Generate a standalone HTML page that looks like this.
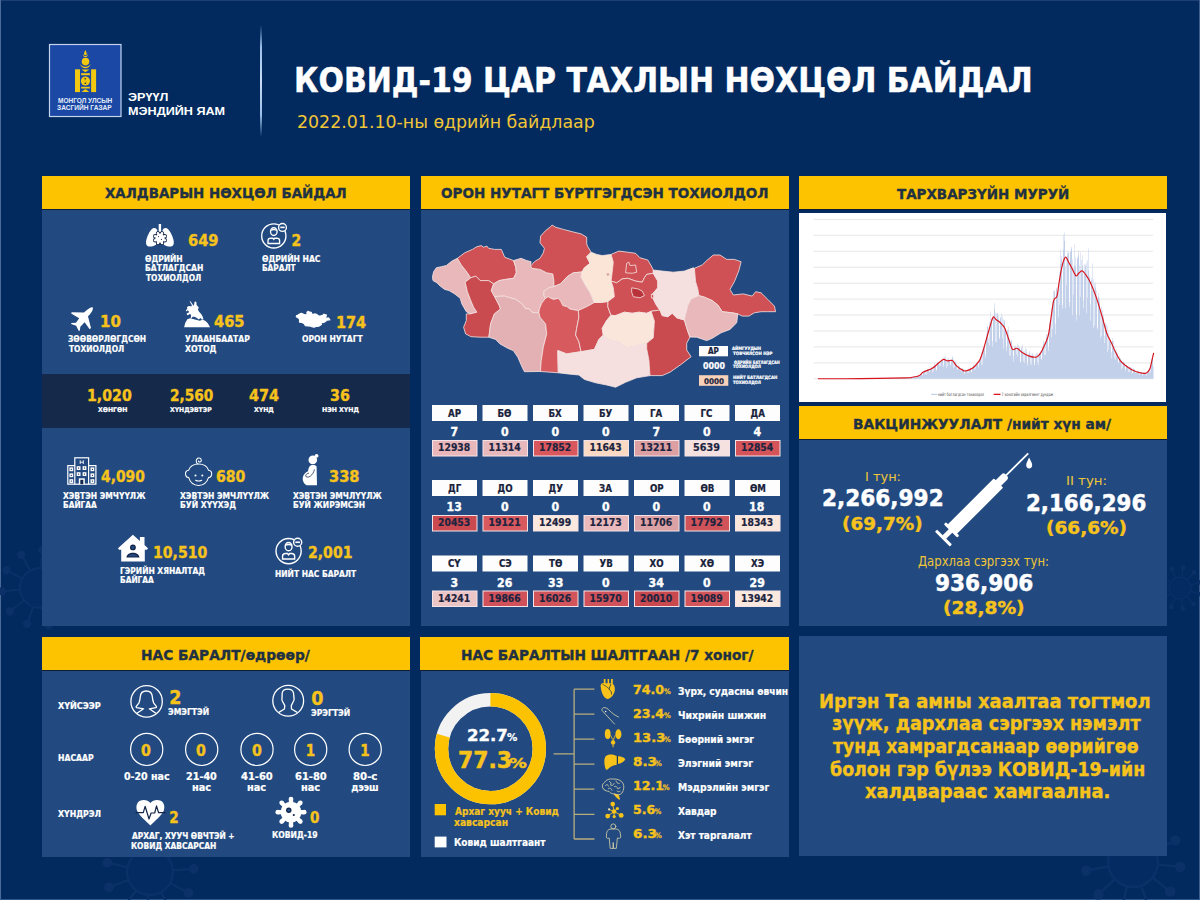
<!DOCTYPE html>
<html><head><meta charset="utf-8"><title>КОВИД-19 ЦАР ТАХЛЫН НӨХЦӨЛ БАЙДАЛ</title>
<style>
*{margin:0;padding:0;box-sizing:border-box}
html,body{width:1200px;height:900px;overflow:hidden}
body{position:relative;background:#022a5e;font-family:'DejaVu Sans Condensed','DejaVu Sans',sans-serif}
.a{position:absolute}
.t{position:absolute;white-space:nowrap;transform-origin:0 0}
.hd{position:absolute;height:33px;background:#fdc300;box-shadow:0 1px 0 #0e1d33}
.pn{position:absolute;background:#224a80}
svg{position:absolute;overflow:visible}
</style></head><body>
<!-- frame edges -->
<div class=a style="left:0;top:0;width:1200px;height:1px;background:#1d3f72"></div>
<div class=a style="left:0;top:0;width:1px;height:900px;background:#4a6a98"></div>
<div class=a style="left:1199px;top:0;width:1px;height:900px;background:#3d5f90"></div>
<div class=a style="left:0;top:899px;width:1200px;height:1px;background:#2f568a"></div>
<svg width="1200" height="900" style="left:0;top:0" viewBox="0 0 1200 900">
<g stroke="#0c3169" fill="none" stroke-width="2.00"><circle cx="40" cy="588" r="20.0" fill="#0c3169" fill-opacity="0.35"/><line x1="59.6" y1="592.0" x2="74.5" y2="595.0"/><circle cx="77.2" cy="595.5" r="3.2" fill="#0c3169"/><line x1="54.3" y1="601.9" x2="65.2" y2="612.5"/><circle cx="67.2" cy="614.5" r="3.2" fill="#0c3169"/><line x1="44.5" y1="607.5" x2="48.0" y2="622.3"/><circle cx="48.6" cy="625.0" r="3.2" fill="#0c3169"/><line x1="33.3" y1="606.8" x2="28.2" y2="621.2"/><circle cx="27.2" cy="623.8" r="3.2" fill="#0c3169"/><line x1="24.2" y1="600.2" x2="12.1" y2="609.5"/><circle cx="9.9" cy="611.2" r="3.2" fill="#0c3169"/><line x1="20.1" y1="589.7" x2="4.9" y2="591.0"/><circle cx="2.1" cy="591.2" r="3.2" fill="#0c3169"/><line x1="22.3" y1="578.7" x2="8.9" y2="571.6"/><circle cx="6.4" cy="570.3" r="3.2" fill="#0c3169"/><line x1="30.2" y1="570.6" x2="22.7" y2="557.3"/><circle cx="21.3" cy="554.9" r="3.2" fill="#0c3169"/><line x1="41.1" y1="568.0" x2="42.0" y2="552.9"/><circle cx="42.2" cy="550.1" r="3.2" fill="#0c3169"/><line x1="51.8" y1="571.8" x2="60.7" y2="559.5"/><circle cx="62.3" cy="557.3" r="3.2" fill="#0c3169"/><line x1="58.6" y1="580.7" x2="72.8" y2="575.2"/><circle cx="75.4" cy="574.2" r="3.2" fill="#0c3169"/></g>
<g stroke="#0c3169" fill="none" stroke-width="2.30"><circle cx="150" cy="872" r="23.0" fill="#0c3169" fill-opacity="0.35"/><line x1="170.2" y1="883.0" x2="185.5" y2="891.4"/><circle cx="188.4" cy="893.0" r="3.7" fill="#0c3169"/><line x1="161.0" y1="892.2" x2="169.4" y2="907.5"/><circle cx="170.9" cy="910.4" r="3.7" fill="#0c3169"/><line x1="148.4" y1="894.9" x2="147.1" y2="912.4"/><circle cx="146.9" cy="915.6" r="3.7" fill="#0c3169"/><line x1="136.2" y1="890.4" x2="125.7" y2="904.4"/><circle cx="123.8" cy="907.0" r="3.7" fill="#0c3169"/><line x1="128.4" y1="880.0" x2="112.1" y2="886.1"/><circle cx="109.1" cy="887.3" r="3.7" fill="#0c3169"/><line x1="127.5" y1="867.1" x2="110.4" y2="863.4"/><circle cx="107.3" cy="862.7" r="3.7" fill="#0c3169"/><line x1="133.7" y1="855.7" x2="121.4" y2="843.4"/><circle cx="119.1" cy="841.1" r="3.7" fill="#0c3169"/><line x1="145.1" y1="849.5" x2="141.4" y2="832.4"/><circle cx="140.7" cy="829.3" r="3.7" fill="#0c3169"/><line x1="158.0" y1="850.5" x2="164.2" y2="834.1"/><circle cx="165.3" cy="831.1" r="3.7" fill="#0c3169"/><line x1="168.4" y1="858.2" x2="182.4" y2="847.7"/><circle cx="185.0" cy="845.8" r="3.7" fill="#0c3169"/><line x1="172.9" y1="870.4" x2="190.4" y2="869.1"/><circle cx="193.6" cy="868.9" r="3.7" fill="#0c3169"/></g>
<g stroke="#0c3169" fill="none" stroke-width="2.50"><circle cx="1133" cy="862" r="25.0" fill="#0c3169" fill-opacity="0.35"/><line x1="1157.9" y1="864.5" x2="1176.8" y2="866.4"/><circle cx="1180.3" cy="866.7" r="4.0" fill="#0c3169"/><line x1="1152.6" y1="877.5" x2="1167.5" y2="889.4"/><circle cx="1170.2" cy="891.5" r="4.0" fill="#0c3169"/><line x1="1141.1" y1="885.7" x2="1147.2" y2="903.6"/><circle cx="1148.3" cy="907.0" r="4.0" fill="#0c3169"/><line x1="1127.0" y1="886.3" x2="1122.4" y2="904.7"/><circle cx="1121.6" cy="908.1" r="4.0" fill="#0c3169"/><line x1="1114.8" y1="879.2" x2="1101.0" y2="892.2"/><circle cx="1098.5" cy="894.6" r="4.0" fill="#0c3169"/><line x1="1108.4" y1="866.6" x2="1089.8" y2="870.1"/><circle cx="1086.3" cy="870.8" r="4.0" fill="#0c3169"/><line x1="1109.8" y1="852.6" x2="1092.2" y2="845.5"/><circle cx="1089.0" cy="844.1" r="4.0" fill="#0c3169"/><line x1="1118.6" y1="841.6" x2="1107.6" y2="826.0"/><circle cx="1105.6" cy="823.2" r="4.0" fill="#0c3169"/><line x1="1131.9" y1="837.0" x2="1131.1" y2="818.0"/><circle cx="1131.0" cy="814.5" r="4.0" fill="#0c3169"/><line x1="1145.6" y1="840.4" x2="1155.2" y2="824.0"/><circle cx="1156.9" cy="821.0" r="4.0" fill="#0c3169"/><line x1="1155.3" y1="850.7" x2="1172.2" y2="842.0"/><circle cx="1175.3" cy="840.4" r="4.0" fill="#0c3169"/></g>
<g stroke="#0c3169" fill="none" stroke-width="1.10"><circle cx="1180" cy="588" r="11.0" fill="#0c3169" fill-opacity="0.35"/><line x1="1190.5" y1="591.3" x2="1198.5" y2="593.7"/><circle cx="1200.0" cy="594.2" r="1.8" fill="#0c3169"/><line x1="1187.1" y1="596.4" x2="1192.5" y2="602.8"/><circle cx="1193.5" cy="604.0" r="1.8" fill="#0c3169"/><line x1="1181.4" y1="598.9" x2="1182.5" y2="607.2"/><circle cx="1182.7" cy="608.7" r="1.8" fill="#0c3169"/><line x1="1175.3" y1="597.9" x2="1171.7" y2="605.5"/><circle cx="1171.0" cy="606.9" r="1.8" fill="#0c3169"/><line x1="1170.7" y1="593.8" x2="1163.6" y2="598.2"/><circle cx="1162.3" cy="599.0" r="1.8" fill="#0c3169"/><line x1="1169.0" y1="587.8" x2="1160.6" y2="587.7"/><circle cx="1159.1" cy="587.7" r="1.8" fill="#0c3169"/><line x1="1170.8" y1="581.9" x2="1163.9" y2="577.3"/><circle cx="1162.6" cy="576.4" r="1.8" fill="#0c3169"/><line x1="1175.6" y1="577.9" x2="1172.2" y2="570.3"/><circle cx="1171.6" cy="568.9" r="1.8" fill="#0c3169"/><line x1="1181.7" y1="577.1" x2="1183.0" y2="568.9"/><circle cx="1183.3" cy="567.4" r="1.8" fill="#0c3169"/><line x1="1187.3" y1="579.8" x2="1192.9" y2="573.6"/><circle cx="1193.9" cy="572.4" r="1.8" fill="#0c3169"/><line x1="1190.6" y1="585.1" x2="1198.7" y2="582.8"/><circle cx="1200.1" cy="582.4" r="1.8" fill="#0c3169"/></g>
</svg>
<!-- header divider -->
<div class=a style="left:260px;top:25px;width:2px;height:112px;background:linear-gradient(#022a5e,#9cc0ea 20%,#c8dcf4 50%,#9cc0ea 80%,#022a5e)"></div>
<svg width="1200" height="140" style="left:0;top:0" viewBox="0 0 1200 140">
<rect x="49.5" y="44.5" width="71.5" height="72" fill="#1a48a4" stroke="#c5d4ee" stroke-width="1.2"/>
<g fill="#f2c811">
<path d="M85.4,50 C84.6,52 83.8,53 84.1,54.6 C84.4,55.6 86.4,55.6 86.7,54.6 C87,53 86.2,52 85.4,50Z"/>
<path d="M82.9,53.4 C82.6,55.8 84,57 85.4,57 C86.8,57 88.2,55.8 87.9,53.4 C87.6,55.3 86.6,56 85.4,56 C84.2,56 83.2,55.3 82.9,53.4Z"/>
<circle cx="85.5" cy="61.6" r="3.8"/>
<path d="M80,64 C81,67 83.2,68.3 85.4,68.3 C87.6,68.3 89.8,67 90.8,64 C89.4,65.9 87.6,66.8 85.4,66.8 C83.2,66.8 81.4,65.9 80,64Z"/>
<path d="M81.4,69.4 L89.4,69.4 L85.4,72.2Z"/>
<rect x="81.1" y="73.2" width="8.8" height="2"/>
<circle cx="85.4" cy="81" r="4.6"/>
<rect x="81.1" y="86.8" width="8.8" height="1.7"/>
<path d="M81.4,92.1 L89.4,92.1 L85.4,89Z"/>
<rect x="75" y="69.3" width="5" height="22.8"/>
<rect x="91.1" y="69.3" width="5" height="22.8"/>
</g>
<circle cx="85.3" cy="78.7" r="0.8" fill="#1a2a50"/>
<circle cx="85.3" cy="83.3" r="0.8" fill="#1a2a50"/>
<path d="M85.4,76.4 C83.5,77.8 83.5,79.5 85.4,81 C87.3,82.5 87.3,84.2 85.4,85.6" fill="none" stroke="#c9a410" stroke-width="0.5"/>
</svg>

<!-- panels row 1 -->
<div class=hd style="left:42px;top:176px;width:368px"></div>
<div class=pn style="left:42px;top:210px;width:368px;height:416px"></div>
<div class=a style="left:42px;top:374px;width:368px;height:53.5px;background:#15294b"></div>
<div class=hd style="left:420.5px;top:176px;width:368.5px"></div>
<div class=pn style="left:421px;top:210px;width:368px;height:416px"></div>
<div class=hd style="left:799px;top:176px;width:368px"></div>
<div class=a style="left:799px;top:213px;width:367px;height:189px;background:#fff"></div>
<div class=hd style="left:799px;top:406px;width:368px"></div>
<div class=pn style="left:799px;top:440px;width:368px;height:186px"></div>
<!-- panels row 2 -->
<div class=hd style="left:42px;top:637px;width:368px"></div>
<div class=pn style="left:42px;top:671px;width:368px;height:186px"></div>
<div class=hd style="left:420px;top:637px;width:369px"></div>
<div class=pn style="left:421px;top:671px;width:368px;height:186px"></div>
<div class=pn style="left:799px;top:636px;width:368px;height:220px"></div>
<svg width="1200" height="900" style="left:0;top:0" viewBox="0 0 1200 900"><g stroke="#f7e4e2" stroke-width="0.8" stroke-linejoin="round">
<polygon fill="#e8b8ba" points="432.4,277.2 433.6,271.7 436.3,267.8 441.3,266.7 446.3,265.6 451.9,261.1 457.4,258.3 461.3,265.0 465.8,270.6 470.8,277.8 465.2,282.2 467.4,291.7 470.8,300.6 473.6,307.2 476.9,312.2 470.2,313.9 466.3,311.7 461.9,303.9 460.2,298.3 454.7,293.9 449.1,290.6 444.7,289.4 440.2,286.1 436.9,282.8 433.0,280.6"/>
<polygon fill="#cf5055" points="457.4,258.3 464.7,252.8 472.4,249.4 476.9,246.7 481.3,245.6 483.6,247.2 486.9,246.1 488.6,248.3 494.7,249.4 501.3,249.4 504.7,257.2 513.6,260.6 515.8,267.2 516.3,272.8 513.6,278.3 505.8,279.4 499.1,280.6 493.6,283.9 488.6,280.6 480.2,280.6 475.8,276.1 470.8,277.8 465.8,270.6 461.3,265.0"/>
<polygon fill="#c94a4f" points="465.2,282.2 470.8,277.8 475.8,276.1 480.2,280.6 488.6,280.6 493.6,283.9 491.3,290.6 494.5,296.5 499.1,305.0 500.5,309.0 494.4,313.9 490.6,323.9 488.9,337.2 480.2,337.2 471.1,336.7 465.6,333.9 463.6,327.2 466.3,320.6 466.3,313.9 470.2,313.9 476.9,312.2 473.6,307.2 470.8,300.6 467.4,291.7"/>
<polygon fill="#e8b8ba" points="513.6,260.6 521.1,258.3 526.7,260.6 531.1,261.7 530.6,266.1 532.2,268.3 540.0,269.4 546.7,272.8 552.8,273.9 553.9,280.6 553.9,286.5 548.9,287.8 543.9,291.1 543.9,295.6 545.3,298.5 541.7,303.3 539.4,308.9 538.9,312.5 536.1,312.8 531.7,312.2 529.4,308.9 525.0,308.3 522.2,303.9 515.6,299.4 504.4,296.1 494.5,296.5 491.3,290.6 493.6,283.9 499.1,280.6 505.8,279.4 513.6,278.3 516.3,272.8 515.8,267.2"/>
<polygon fill="#e3b0b3" points="494.5,296.5 504.4,296.1 515.6,299.4 522.2,303.9 525.0,308.3 529.4,308.9 531.7,312.2 536.1,312.8 538.9,312.5 540.0,317.2 545.6,323.9 546.7,333.9 543.3,347.2 541.1,361.7 540.5,371.5 524.4,371.7 522.2,367.2 517.8,357.2 513.3,350.6 507.8,348.3 500.0,343.9 495.6,339.4 488.9,337.2 490.6,323.9 494.4,313.9 500.5,309.0 499.1,305.0"/>
<polygon fill="#cf5055" points="552.2,225.0 555.6,227.2 563.3,229.4 572.2,231.7 581.1,233.9 586.7,237.2 586.7,243.9 587.8,246.7 591.1,252.2 586.7,256.7 590.0,263.3 584.4,267.8 582.0,272.0 573.3,272.8 567.2,276.7 560.6,283.9 553.9,286.5 553.9,280.6 552.8,273.9 546.7,272.8 540.0,269.4 532.2,268.3 530.6,266.1 534.4,261.7 540.0,258.3 543.3,252.8 544.4,248.3 540.0,242.8 540.6,236.1 545.6,230.6 550.0,227.2"/>
<polygon fill="#e8b8ba" points="553.9,286.5 560.6,283.9 567.2,276.7 573.3,272.8 582.0,272.0 581.1,276.7 584.4,283.3 590.0,292.2 594.4,302.5 586.7,306.7 578.3,310.6 575.0,310.0 569.4,308.9 567.2,306.7 562.8,305.6 560.6,301.1 558.3,298.3 553.9,299.4 550.6,298.3 548.3,296.7 545.3,298.5 543.9,295.6 543.9,291.1 548.9,287.8"/>
<polygon fill="#d65a5e" points="545.3,298.5 548.3,296.7 550.6,298.3 553.9,299.4 558.3,298.3 560.6,301.1 562.8,305.6 567.2,306.7 569.4,308.9 575.0,310.0 578.3,310.6 578.9,317.2 576.7,328.3 575.6,335.0 578.9,341.7 581.1,351.7 566.7,353.9 557.8,350.6 558.3,372.8 540.5,371.5 541.1,361.7 543.3,347.2 546.7,333.9 545.6,323.9 540.0,317.2 538.9,312.5 539.4,308.9 541.7,303.3"/>
<polygon fill="#cf5055" points="578.3,310.6 586.7,306.7 594.4,302.5 600.0,302.5 608.0,301.5 607.8,306.7 611.0,315.3 606.7,320.5 602.2,328.3 603.3,335.0 598.9,339.4 594.4,349.4 581.1,351.7 578.9,341.7 575.6,335.0 576.7,328.3 578.9,317.2"/>
<polygon fill="#fbe5d6" points="591.1,252.2 596.7,254.4 602.2,255.6 611.1,254.4 613.3,262.2 612.2,272.2 611.1,281.1 613.3,287.8 614.4,296.7 608.0,301.5 600.0,302.5 594.4,302.5 590.0,292.2 584.4,283.3 581.1,276.7 582.0,272.0 584.4,267.8 590.0,263.3 586.7,256.7"/>
<polygon fill="#cf5055" points="611.1,254.4 618.9,251.1 627.8,252.2 635.6,253.3 640.0,257.8 647.8,260.0 651.1,265.6 653.3,270.0 653.3,273.3 646.7,274.4 644.4,277.8 642.2,282.2 635.6,281.1 627.8,278.3 622.2,278.9 616.7,282.8 611.1,281.1 612.2,272.2 613.3,262.2"/>
<polygon fill="#cf5055" points="611.1,281.1 616.7,282.8 622.2,278.9 627.8,278.3 635.6,281.1 642.2,282.2 644.4,277.8 646.7,274.4 653.3,273.3 657.8,281.1 657.8,287.8 652.2,294.4 653.3,298.9 656.7,305.6 660.0,310.0 651.1,311.3 646.7,313.3 638.9,312.2 632.2,313.3 624.4,312.2 615.6,315.6 611.0,315.3 607.8,306.7 608.0,301.5 614.4,296.7 613.3,287.8"/>
<polygon fill="#fae6da" points="611.0,315.3 615.6,315.6 624.4,312.2 632.2,313.3 638.9,312.2 646.7,313.3 651.1,311.3 654.4,321.1 653.3,337.8 646.7,343.3 636.7,345.6 626.7,347.8 620.0,342.2 617.8,341.7 608.9,339.4 603.3,335.0 602.2,328.3 606.7,320.5"/>
<polygon fill="#f5e0df" points="557.8,350.6 566.7,353.9 581.1,351.7 594.4,349.4 598.9,339.4 603.3,335.0 608.9,339.4 617.8,341.7 620.0,342.2 626.7,347.8 636.7,345.6 646.7,343.3 646.7,348.9 648.9,360.0 650.0,375.6 636.7,377.8 625.6,382.2 615.6,387.2 606.7,385.0 595.6,382.8 584.4,379.4 578.9,375.0 567.8,373.9 558.3,372.8"/>
<polygon fill="#c94a4f" points="651.1,311.3 660.0,310.0 662.2,315.6 667.8,316.7 672.2,313.3 676.7,317.8 684.4,320.0 686.7,327.8 688.9,334.4 690.0,337.0 686.7,343.3 686.7,350.0 691.1,356.7 681.1,364.4 670.0,372.2 662.2,375.6 650.0,375.6 648.9,360.0 646.7,348.9 646.7,343.3 653.3,337.8 654.4,321.1"/>
<polygon fill="#f5e0df" points="653.3,270.0 662.2,271.1 673.3,272.2 684.4,271.1 693.3,267.8 694.4,268.3 695.6,281.7 697.8,288.9 698.9,295.6 691.1,298.9 687.8,305.6 685.6,314.4 684.4,320.0 676.7,317.8 672.2,313.3 667.8,316.7 662.2,315.6 660.0,310.0 656.7,305.6 653.3,298.9 652.2,294.4 657.8,287.8 657.8,281.1 653.3,273.3"/>
<polygon fill="#cf5055" points="694.4,268.3 702.2,265.0 706.7,260.6 713.3,255.0 720.0,255.0 726.7,259.4 734.4,259.4 741.1,261.7 738.9,270.6 734.4,281.7 730.0,289.4 733.3,295.0 743.3,293.9 752.2,296.1 755.6,291.7 761.1,292.8 767.8,299.4 774.4,306.1 775.6,311.7 767.8,311.7 761.1,311.7 754.4,312.8 748.9,316.1 742.2,316.1 737.8,313.9 732.2,312.8 722.2,311.7 717.8,305.0 712.2,300.6 704.4,297.2 698.9,295.6 697.8,288.9 695.6,281.7"/>
<polygon fill="#e8b8ba" points="698.9,295.6 704.4,297.2 712.2,300.6 717.8,305.0 722.2,311.7 732.2,312.8 737.8,313.9 736.7,322.8 730.0,329.4 721.1,332.8 712.2,338.3 706.7,340.6 696.7,337.2 690.0,337.0 688.9,334.4 686.7,327.8 684.4,320.0 685.6,314.4 687.8,305.6 691.1,298.9"/>
<polygon fill="#cf5055" points="626.7,263.3 628.9,262.2 630,265.6 635.6,265 636.7,272.2 632.2,273.3 625.6,272.8"/>
<polygon fill="#b8343a" points="631.7,287.8 637.8,288.9 642.2,291.1 644.4,295.6 640,297.8 633.3,296.7 631.7,292.2"/>
<polygon fill="#d8a0a3" stroke="none" points="606.5,273.5 608.8,273.2 609.5,275.3 607,275.8"/>
<polygon fill="#cf5055" points="651.3,294.2 653.6,294.8 653.8,297.8 651.5,298"/>
</g></svg>
<svg width="1200" height="900" style="left:0;top:0" viewBox="0 0 1200 900">
<rect x="432.0" y="405" width="45" height="16" fill="#fdfdfe"/>
<rect x="432.5" y="440.5" width="44.5" height="15.5" fill="#e9b7b9" stroke="#f4e3e6" stroke-width="1"/>
<rect x="482.5" y="405" width="45" height="16" fill="#fdfdfe"/>
<rect x="483.0" y="440.5" width="44.5" height="15.5" fill="#e8b9bc" stroke="#f4e3e6" stroke-width="1"/>
<rect x="533.0" y="405" width="45" height="16" fill="#fdfdfe"/>
<rect x="533.5" y="440.5" width="44.5" height="15.5" fill="#d9585d" stroke="#f4e3e6" stroke-width="1"/>
<rect x="583.5" y="405" width="45" height="16" fill="#fdfdfe"/>
<rect x="584.0" y="440.5" width="44.5" height="15.5" fill="#fbd9c3" stroke="#f4e3e6" stroke-width="1"/>
<rect x="634.0" y="405" width="45" height="16" fill="#fdfdfe"/>
<rect x="634.5" y="440.5" width="44.5" height="15.5" fill="#dca0a3" stroke="#f4e3e6" stroke-width="1"/>
<rect x="684.5" y="405" width="45" height="16" fill="#fdfdfe"/>
<rect x="685.0" y="440.5" width="44.5" height="15.5" fill="#f6e1e1" stroke="#f4e3e6" stroke-width="1"/>
<rect x="735.0" y="405" width="45" height="16" fill="#fdfdfe"/>
<rect x="735.5" y="440.5" width="44.5" height="15.5" fill="#d5545a" stroke="#f4e3e6" stroke-width="1"/>
<rect x="432.0" y="480" width="45" height="16" fill="#fdfdfe"/>
<rect x="432.5" y="515.5" width="44.5" height="15.5" fill="#cb4a50" stroke="#f4e3e6" stroke-width="1"/>
<rect x="482.5" y="480" width="45" height="16" fill="#fdfdfe"/>
<rect x="483.0" y="515.5" width="44.5" height="15.5" fill="#d8595e" stroke="#f4e3e6" stroke-width="1"/>
<rect x="533.0" y="480" width="45" height="16" fill="#fdfdfe"/>
<rect x="533.5" y="515.5" width="44.5" height="15.5" fill="#fbe8de" stroke="#f4e3e6" stroke-width="1"/>
<rect x="583.5" y="480" width="45" height="16" fill="#fdfdfe"/>
<rect x="584.0" y="515.5" width="44.5" height="15.5" fill="#e9b9bb" stroke="#f4e3e6" stroke-width="1"/>
<rect x="634.0" y="480" width="45" height="16" fill="#fdfdfe"/>
<rect x="634.5" y="515.5" width="44.5" height="15.5" fill="#dca1a4" stroke="#f4e3e6" stroke-width="1"/>
<rect x="684.5" y="480" width="45" height="16" fill="#fdfdfe"/>
<rect x="685.0" y="515.5" width="44.5" height="15.5" fill="#d0535a" stroke="#f4e3e6" stroke-width="1"/>
<rect x="735.0" y="480" width="45" height="16" fill="#fdfdfe"/>
<rect x="735.5" y="515.5" width="44.5" height="15.5" fill="#fbe6dc" stroke="#f4e3e6" stroke-width="1"/>
<rect x="432.0" y="555.5" width="45" height="16" fill="#fdfdfe"/>
<rect x="432.5" y="591.0" width="44.5" height="15.5" fill="#ecc5c6" stroke="#f4e3e6" stroke-width="1"/>
<rect x="482.5" y="555.5" width="45" height="16" fill="#fdfdfe"/>
<rect x="483.0" y="591.0" width="44.5" height="15.5" fill="#d0515a" stroke="#f4e3e6" stroke-width="1"/>
<rect x="533.0" y="555.5" width="45" height="16" fill="#fdfdfe"/>
<rect x="533.5" y="591.0" width="44.5" height="15.5" fill="#d1555b" stroke="#f4e3e6" stroke-width="1"/>
<rect x="583.5" y="555.5" width="45" height="16" fill="#fdfdfe"/>
<rect x="584.0" y="591.0" width="44.5" height="15.5" fill="#d0525a" stroke="#f4e3e6" stroke-width="1"/>
<rect x="634.0" y="555.5" width="45" height="16" fill="#fdfdfe"/>
<rect x="634.5" y="591.0" width="44.5" height="15.5" fill="#c9494f" stroke="#f4e3e6" stroke-width="1"/>
<rect x="684.5" y="555.5" width="45" height="16" fill="#fdfdfe"/>
<rect x="685.0" y="591.0" width="44.5" height="15.5" fill="#d4565b" stroke="#f4e3e6" stroke-width="1"/>
<rect x="735.0" y="555.5" width="45" height="16" fill="#fdfdfe"/>
<rect x="735.5" y="591.0" width="44.5" height="15.5" fill="#fbe8df" stroke="#f4e3e6" stroke-width="1"/>
<rect x="699" y="346" width="29" height="10.3" fill="#fdfdfe"/>
<rect x="699" y="375.2" width="29.3" height="10.6" fill="#f8d2b8"/>
</svg>
<svg width="1200" height="900" style="left:0;top:0" viewBox="0 0 1200 900">
<path d="M813.4,219.4H1153.2 M813.4,235.3H1153.2 M813.4,251.3H1153.2 M813.4,267.2H1153.2 M813.4,283.2H1153.2 M813.4,299.1H1153.2 M813.4,315.0H1153.2 M813.4,331.0H1153.2 M813.4,346.9H1153.2 M813.4,362.9H1153.2 M813.4,378.8H1153.2" stroke="#dcdcdc" stroke-width="0.7" fill="none"/>
<path d="M880.00,378.8v-0.4h0.5v0.4zM880.50,378.8v-0.3h0.5v0.3zM881.00,378.8v-0.5h0.5v0.5zM881.50,378.8v-0.6h0.5v0.6zM882.00,378.8v-0.7h0.5v0.7zM882.50,378.8v-0.6h0.5v0.6zM883.00,378.8v-0.6h0.5v0.6zM883.50,378.8v-0.3h0.5v0.3zM884.00,378.8v-0.3h0.5v0.3zM884.50,378.8v-0.7h0.5v0.7zM885.00,378.8v-0.6h0.5v0.6zM885.50,378.8v-0.7h0.5v0.7zM886.00,378.8v-0.6h0.5v0.6zM886.50,378.8v-0.6h0.5v0.6zM887.00,378.8v-0.5h0.5v0.5zM887.50,378.8v-0.4h0.5v0.4zM888.00,378.8v-0.7h0.5v0.7zM888.50,378.8v-0.7h0.5v0.7zM889.00,378.8v-0.8h0.5v0.8zM889.50,378.8v-0.8h0.5v0.8zM890.00,378.8v-0.7h0.5v0.7zM890.50,378.8v-0.4h0.5v0.4zM891.00,378.8v-0.4h0.5v0.4zM891.50,378.8v-0.7h0.5v0.7zM892.00,378.8v-0.8h0.5v0.8zM892.50,378.8v-0.8h0.5v0.8zM893.00,378.8v-0.7h0.5v0.7zM893.50,378.8v-0.8h0.5v0.8zM894.00,378.8v-0.5h0.5v0.5zM894.50,378.8v-0.5h0.5v0.5zM895.00,378.8v-0.8h0.5v0.8zM895.50,378.8v-0.9h0.5v0.9zM896.00,378.8v-0.7h0.5v0.7zM896.50,378.8v-0.8h0.5v0.8zM897.00,378.8v-0.8h0.5v0.8zM897.50,378.8v-0.4h0.5v0.4zM898.00,378.8v-0.5h0.5v0.5zM898.50,378.8v-0.9h0.5v0.9zM899.00,378.8v-0.8h0.5v0.8zM899.50,378.8v-0.9h0.5v0.9zM900.00,378.8v-0.9h0.5v0.9zM900.50,378.8v-0.8h0.5v0.8zM901.00,378.8v-0.6h0.5v0.6zM901.50,378.8v-0.6h0.5v0.6zM902.00,378.8v-0.9h0.5v0.9zM902.50,378.8v-0.9h0.5v0.9zM903.00,378.8v-1.0h0.5v1.0zM903.50,378.8v-0.8h0.5v0.8zM904.00,378.8v-0.9h0.5v0.9zM904.50,378.8v-0.6h0.5v0.6zM905.00,378.8v-0.7h0.5v0.7zM905.50,378.8v-0.8h0.5v0.8zM906.00,378.8v-1.0h0.5v1.0zM906.50,378.8v-1.1h0.5v1.1zM907.00,378.8v-1.2h0.5v1.2zM907.50,378.8v-1.2h0.5v1.2zM908.00,378.8v-0.7h0.5v0.7zM908.50,378.8v-0.9h0.5v0.9zM909.00,378.8v-1.4h0.5v1.4zM909.50,378.8v-1.5h0.5v1.5zM910.00,378.8v-1.5h0.5v1.5zM910.50,378.8v-1.7h0.5v1.7zM911.00,378.8v-1.5h0.5v1.5zM911.50,378.8v-1.2h0.5v1.2zM912.00,378.8v-1.0h0.5v1.0zM912.50,378.8v-1.7h0.5v1.7zM913.00,378.8v-1.9h0.5v1.9zM913.50,378.8v-2.1h0.5v2.1zM914.00,378.8v-2.3h0.5v2.3zM914.50,378.8v-2.3h0.5v2.3zM915.00,378.8v-1.4h0.5v1.4zM915.50,378.8v-1.6h0.5v1.6zM916.00,378.8v-2.6h0.5v2.6zM916.50,378.8v-2.7h0.5v2.7zM917.00,378.8v-3.4h0.5v3.4zM917.50,378.8v-3.0h0.5v3.0zM918.00,378.8v-2.7h0.5v2.7zM918.50,378.8v-2.2h0.5v2.2zM919.00,378.8v-2.2h0.5v2.2zM919.50,378.8v-3.8h0.5v3.8zM920.00,378.8v-4.7h0.5v4.7zM920.50,378.8v-4.9h0.5v4.9zM921.00,378.8v-5.5h0.5v5.5zM921.50,378.8v-5.2h0.5v5.2zM922.00,378.8v-3.2h0.5v3.2zM922.50,378.8v-4.2h0.5v4.2zM923.00,378.8v-7.0h0.5v7.0zM923.50,378.8v-7.3h0.5v7.3zM924.00,378.8v-8.5h0.5v8.5zM924.50,378.8v-8.0h0.5v8.0zM925.00,378.8v-8.0h0.5v8.0zM925.50,378.8v-4.5h0.5v4.5zM926.00,378.8v-4.3h0.5v4.3zM926.50,378.8v-8.9h0.5v8.9zM927.00,378.8v-9.4h0.5v9.4zM927.50,378.8v-9.7h0.5v9.7zM928.00,378.8v-9.4h0.5v9.4zM928.50,378.8v-10.1h0.5v10.1zM929.00,378.8v-6.9h0.5v6.9zM929.50,378.8v-7.4h0.5v7.4zM930.00,378.8v-9.6h0.5v9.6zM930.50,378.8v-10.7h0.5v10.7zM931.00,378.8v-12.3h0.5v12.3zM931.50,378.8v-11.1h0.5v11.1zM932.00,378.8v-11.1h0.5v11.1zM932.50,378.8v-6.3h0.5v6.3zM933.00,378.8v-7.6h0.5v7.6zM933.50,378.8v-12.7h0.5v12.7zM934.00,378.8v-13.4h0.5v13.4zM934.50,378.8v-15.8h0.5v15.8zM935.00,378.8v-11.7h0.5v11.7zM935.50,378.8v-13.9h0.5v13.9zM936.00,378.8v-8.4h0.5v8.4zM936.50,378.8v-9.0h0.5v9.0zM937.00,378.8v-16.4h0.5v16.4zM937.50,378.8v-17.4h0.5v17.4zM938.00,378.8v-16.8h0.5v16.8zM938.50,378.8v-16.6h0.5v16.6zM939.00,378.8v-17.6h0.5v17.6zM939.50,378.8v-13.1h0.5v13.1zM940.00,378.8v-12.7h0.5v12.7zM940.50,378.8v-17.1h0.5v17.1zM941.00,378.8v-18.9h0.5v18.9zM941.50,378.8v-18.6h0.5v18.6zM942.00,378.8v-19.6h0.5v19.6zM942.50,378.8v-20.4h0.5v20.4zM943.00,378.8v-11.7h0.5v11.7zM943.50,378.8v-14.0h0.5v14.0zM944.00,378.8v-21.9h0.5v21.9zM944.50,378.8v-20.2h0.5v20.2zM945.00,378.8v-23.4h0.5v23.4zM945.50,378.8v-18.8h0.5v18.8zM946.00,378.8v-19.3h0.5v19.3zM946.50,378.8v-11.0h0.5v11.0zM947.00,378.8v-12.7h0.5v12.7zM947.50,378.8v-20.2h0.5v20.2zM948.00,378.8v-21.2h0.5v21.2zM948.50,378.8v-18.3h0.5v18.3zM949.00,378.8v-18.4h0.5v18.4zM949.50,378.8v-17.9h0.5v17.9zM950.00,378.8v-14.1h0.5v14.1zM950.50,378.8v-13.5h0.5v13.5zM951.00,378.8v-19.6h0.5v19.6zM951.50,378.8v-18.4h0.5v18.4zM952.00,378.8v-22.9h0.5v22.9zM952.50,378.8v-21.1h0.5v21.1zM953.00,378.8v-19.6h0.5v19.6zM953.50,378.8v-10.9h0.5v10.9zM954.00,378.8v-11.8h0.5v11.8zM954.50,378.8v-18.1h0.5v18.1zM955.00,378.8v-16.3h0.5v16.3zM955.50,378.8v-17.7h0.5v17.7zM956.00,378.8v-16.0h0.5v16.0zM956.50,378.8v-13.3h0.5v13.3zM957.00,378.8v-10.0h0.5v10.0zM957.50,378.8v-8.7h0.5v8.7zM958.00,378.8v-12.3h0.5v12.3zM958.50,378.8v-13.2h0.5v13.2zM959.00,378.8v-12.2h0.5v12.2zM959.50,378.8v-11.8h0.5v11.8zM960.00,378.8v-10.9h0.5v10.9zM960.50,378.8v-8.0h0.5v8.0zM961.00,378.8v-7.4h0.5v7.4zM961.50,378.8v-10.7h0.5v10.7zM962.00,378.8v-10.0h0.5v10.0zM962.50,378.8v-11.1h0.5v11.1zM963.00,378.8v-9.2h0.5v9.2zM963.50,378.8v-9.5h0.5v9.5zM964.00,378.8v-4.8h0.5v4.8zM964.50,378.8v-6.4h0.5v6.4zM965.00,378.8v-8.5h0.5v8.5zM965.50,378.8v-9.3h0.5v9.3zM966.00,378.8v-7.9h0.5v7.9zM966.50,378.8v-8.3h0.5v8.3zM967.00,378.8v-9.4h0.5v9.4zM967.50,378.8v-5.7h0.5v5.7zM968.00,378.8v-5.7h0.5v5.7zM968.50,378.8v-9.5h0.5v9.5zM969.00,378.8v-9.8h0.5v9.8zM969.50,378.8v-10.1h0.5v10.1zM970.00,378.8v-10.6h0.5v10.6zM970.50,378.8v-11.1h0.5v11.1zM971.00,378.8v-6.3h0.5v6.3zM971.50,378.8v-6.9h0.5v6.9zM972.00,378.8v-10.2h0.5v10.2zM972.50,378.8v-11.2h0.5v11.2zM973.00,378.8v-14.2h0.5v14.2zM973.50,378.8v-13.1h0.5v13.1zM974.00,378.8v-12.8h0.5v12.8zM974.50,378.8v-8.5h0.5v8.5zM975.00,378.8v-10.1h0.5v10.1zM975.50,378.8v-14.0h0.5v14.0zM976.00,378.8v-14.0h0.5v14.0zM976.50,378.8v-16.2h0.5v16.2zM977.00,378.8v-15.1h0.5v15.1zM977.50,378.8v-17.1h0.5v17.1zM978.00,378.8v-11.1h0.5v11.1zM978.50,378.8v-13.6h0.5v13.6zM979.00,378.8v-18.7h0.5v18.7zM979.50,378.8v-17.9h0.5v17.9zM980.00,378.8v-21.7h0.5v21.7zM980.50,378.8v-22.1h0.5v22.1zM981.00,378.8v-26.3h0.5v26.3zM981.50,378.8v-13.8h0.5v13.8zM982.00,378.8v-14.2h0.5v14.2zM982.50,378.8v-29.8h0.5v29.8zM983.00,378.8v-30.2h0.5v30.2zM983.50,378.8v-32.4h0.5v32.4zM984.00,378.8v-34.5h0.5v34.5zM984.50,378.8v-31.5h0.5v31.5zM985.00,378.8v-24.8h0.5v24.8zM985.50,378.8v-21.4h0.5v21.4zM986.00,378.8v-45.8h0.5v45.8zM986.50,378.8v-39.0h0.5v39.0zM987.00,378.8v-51.9h0.5v51.9zM987.50,378.8v-53.4h0.5v53.4zM988.00,378.8v-40.7h0.5v40.7zM988.50,378.8v-35.7h0.5v35.7zM989.00,378.8v-33.2h0.5v33.2zM989.50,378.8v-57.4h0.5v57.4zM990.00,378.8v-55.4h0.5v55.4zM990.50,378.8v-67.2h0.5v67.2zM991.00,378.8v-59.6h0.5v59.6zM991.50,378.8v-60.6h0.5v60.6zM992.00,378.8v-32.2h0.5v32.2zM992.50,378.8v-37.7h0.5v37.7zM993.00,378.8v-62.8h0.5v62.8zM993.50,378.8v-63.2h0.5v63.2zM994.00,378.8v-75.6h0.5v75.6zM994.50,378.8v-69.5h0.5v69.5zM995.00,378.8v-66.6h0.5v66.6zM995.50,378.8v-36.8h0.5v36.8zM996.00,378.8v-36.6h0.5v36.6zM996.50,378.8v-65.2h0.5v65.2zM997.00,378.8v-65.8h0.5v65.8zM997.50,378.8v-65.6h0.5v65.6zM998.00,378.8v-63.7h0.5v63.7zM998.50,378.8v-59.8h0.5v59.8zM999.00,378.8v-39.6h0.5v39.6zM999.50,378.8v-41.2h0.5v41.2zM1000.00,378.8v-61.8h0.5v61.8zM1000.50,378.8v-60.9h0.5v60.9zM1001.00,378.8v-65.4h0.5v65.4zM1001.50,378.8v-56.0h0.5v56.0zM1002.00,378.8v-62.9h0.5v62.9zM1002.50,378.8v-40.2h0.5v40.2zM1003.00,378.8v-30.0h0.5v30.0zM1003.50,378.8v-59.5h0.5v59.5zM1004.00,378.8v-57.9h0.5v57.9zM1004.50,378.8v-58.7h0.5v58.7zM1005.00,378.8v-47.5h0.5v47.5zM1005.50,378.8v-50.2h0.5v50.2zM1006.00,378.8v-32.1h0.5v32.1zM1006.50,378.8v-27.9h0.5v27.9zM1007.00,378.8v-49.1h0.5v49.1zM1007.50,378.8v-47.4h0.5v47.4zM1008.00,378.8v-52.0h0.5v52.0zM1008.50,378.8v-43.9h0.5v43.9zM1009.00,378.8v-40.5h0.5v40.5zM1009.50,378.8v-23.3h0.5v23.3zM1010.00,378.8v-23.0h0.5v23.0zM1010.50,378.8v-37.6h0.5v37.6zM1011.00,378.8v-37.7h0.5v37.7zM1011.50,378.8v-39.2h0.5v39.2zM1012.00,378.8v-33.2h0.5v33.2zM1012.50,378.8v-29.8h0.5v29.8zM1013.00,378.8v-23.1h0.5v23.1zM1013.50,378.8v-17.1h0.5v17.1zM1014.00,378.8v-32.9h0.5v32.9zM1014.50,378.8v-30.5h0.5v30.5zM1015.00,378.8v-32.5h0.5v32.5zM1015.50,378.8v-32.6h0.5v32.6zM1016.00,378.8v-29.9h0.5v29.9zM1016.50,378.8v-24.2h0.5v24.2zM1017.00,378.8v-22.2h0.5v22.2zM1017.50,378.8v-35.4h0.5v35.4zM1018.00,378.8v-30.9h0.5v30.9zM1018.50,378.8v-33.9h0.5v33.9zM1019.00,378.8v-32.1h0.5v32.1zM1019.50,378.8v-31.1h0.5v31.1zM1020.00,378.8v-17.2h0.5v17.2zM1020.50,378.8v-16.4h0.5v16.4zM1021.00,378.8v-32.2h0.5v32.2zM1021.50,378.8v-30.6h0.5v30.6zM1022.00,378.8v-33.9h0.5v33.9zM1022.50,378.8v-26.5h0.5v26.5zM1023.00,378.8v-27.9h0.5v27.9zM1023.50,378.8v-17.0h0.5v17.0zM1024.00,378.8v-15.6h0.5v15.6zM1024.50,378.8v-28.4h0.5v28.4zM1025.00,378.8v-30.7h0.5v30.7zM1025.50,378.8v-25.6h0.5v25.6zM1026.00,378.8v-26.4h0.5v26.4zM1026.50,378.8v-29.7h0.5v29.7zM1027.00,378.8v-13.1h0.5v13.1zM1027.50,378.8v-15.2h0.5v15.2zM1028.00,378.8v-23.5h0.5v23.5zM1028.50,378.8v-25.2h0.5v25.2zM1029.00,378.8v-28.1h0.5v28.1zM1029.50,378.8v-26.0h0.5v26.0zM1030.00,378.8v-24.3h0.5v24.3zM1030.50,378.8v-14.6h0.5v14.6zM1031.00,378.8v-14.0h0.5v14.0zM1031.50,378.8v-24.2h0.5v24.2zM1032.00,378.8v-24.2h0.5v24.2zM1032.50,378.8v-25.7h0.5v25.7zM1033.00,378.8v-23.8h0.5v23.8zM1033.50,378.8v-21.8h0.5v21.8zM1034.00,378.8v-14.2h0.5v14.2zM1034.50,378.8v-13.8h0.5v13.8zM1035.00,378.8v-24.2h0.5v24.2zM1035.50,378.8v-23.3h0.5v23.3zM1036.00,378.8v-25.9h0.5v25.9zM1036.50,378.8v-21.9h0.5v21.9zM1037.00,378.8v-25.7h0.5v25.7zM1037.50,378.8v-16.1h0.5v16.1zM1038.00,378.8v-13.6h0.5v13.6zM1038.50,378.8v-22.9h0.5v22.9zM1039.00,378.8v-24.2h0.5v24.2zM1039.50,378.8v-26.0h0.5v26.0zM1040.00,378.8v-28.1h0.5v28.1zM1040.50,378.8v-25.3h0.5v25.3zM1041.00,378.8v-19.3h0.5v19.3zM1041.50,378.8v-20.0h0.5v20.0zM1042.00,378.8v-30.7h0.5v30.7zM1042.50,378.8v-32.0h0.5v32.0zM1043.00,378.8v-38.0h0.5v38.0zM1043.50,378.8v-35.4h0.5v35.4zM1044.00,378.8v-36.7h0.5v36.7zM1044.50,378.8v-24.0h0.5v24.0zM1045.00,378.8v-23.7h0.5v23.7zM1045.50,378.8v-37.0h0.5v37.0zM1046.00,378.8v-44.7h0.5v44.7zM1046.50,378.8v-42.0h0.5v42.0zM1047.00,378.8v-40.3h0.5v40.3zM1047.50,378.8v-44.5h0.5v44.5zM1048.00,378.8v-31.2h0.5v31.2zM1048.50,378.8v-27.7h0.5v27.7zM1049.00,378.8v-54.2h0.5v54.2zM1049.50,378.8v-56.6h0.5v56.6zM1050.00,378.8v-58.6h0.5v58.6zM1050.50,378.8v-60.0h0.5v60.0zM1051.00,378.8v-69.9h0.5v69.9zM1051.50,378.8v-41.3h0.5v41.3zM1052.00,378.8v-49.9h0.5v49.9zM1052.50,378.8v-76.9h0.5v76.9zM1053.00,378.8v-74.9h0.5v74.9zM1053.50,378.8v-88.1h0.5v88.1zM1054.00,378.8v-87.1h0.5v87.1zM1054.50,378.8v-88.5h0.5v88.5zM1055.00,378.8v-55.3h0.5v55.3zM1055.50,378.8v-44.6h0.5v44.6zM1056.00,378.8v-91.4h0.5v91.4zM1056.50,378.8v-90.0h0.5v90.0zM1057.00,378.8v-85.7h0.5v85.7zM1057.50,378.8v-85.9h0.5v85.9zM1058.00,378.8v-94.8h0.5v94.8zM1058.50,378.8v-61.6h0.5v61.6zM1059.00,378.8v-74.1h0.5v74.1zM1059.50,378.8v-107.1h0.5v107.1zM1060.00,378.8v-114.9h0.5v114.9zM1060.50,378.8v-129.1h0.5v129.1zM1061.00,378.8v-122.8h0.5v122.8zM1061.50,378.8v-119.4h0.5v119.4zM1062.00,378.8v-74.1h0.5v74.1zM1062.50,378.8v-70.2h0.5v70.2zM1063.00,378.8v-129.2h0.5v129.2zM1063.50,378.8v-143.7h0.5v143.7zM1064.00,378.8v-146.0h0.5v146.0zM1064.50,378.8v-138.1h0.5v138.1zM1065.00,378.8v-112.2h0.5v112.2zM1065.50,378.8v-70.5h0.5v70.5zM1066.00,378.8v-93.7h0.5v93.7zM1066.50,378.8v-122.3h0.5v122.3zM1067.00,378.8v-127.6h0.5v127.6zM1067.50,378.8v-123.2h0.5v123.2zM1068.00,378.8v-125.6h0.5v125.6zM1068.50,378.8v-126.3h0.5v126.3zM1069.00,378.8v-76.8h0.5v76.8zM1069.50,378.8v-71.9h0.5v71.9zM1070.00,378.8v-127.2h0.5v127.2zM1070.50,378.8v-127.1h0.5v127.1zM1071.00,378.8v-130.0h0.5v130.0zM1071.50,378.8v-132.0h0.5v132.0zM1072.00,378.8v-119.4h0.5v119.4zM1072.50,378.8v-63.5h0.5v63.5zM1073.00,378.8v-84.2h0.5v84.2zM1073.50,378.8v-111.7h0.5v111.7zM1074.00,378.8v-113.7h0.5v113.7zM1074.50,378.8v-134.6h0.5v134.6zM1075.00,378.8v-121.6h0.5v121.6zM1075.50,378.8v-112.1h0.5v112.1zM1076.00,378.8v-63.9h0.5v63.9zM1076.50,378.8v-58.2h0.5v58.2zM1077.00,378.8v-121.9h0.5v121.9zM1077.50,378.8v-119.9h0.5v119.9zM1078.00,378.8v-123.3h0.5v123.3zM1078.50,378.8v-128.2h0.5v128.2zM1079.00,378.8v-113.5h0.5v113.5zM1079.50,378.8v-63.4h0.5v63.4zM1080.00,378.8v-82.0h0.5v82.0zM1080.50,378.8v-126.6h0.5v126.6zM1081.00,378.8v-118.9h0.5v118.9zM1081.50,378.8v-107.4h0.5v107.4zM1082.00,378.8v-123.6h0.5v123.6zM1082.50,378.8v-113.4h0.5v113.4zM1083.00,378.8v-78.6h0.5v78.6zM1083.50,378.8v-70.6h0.5v70.6zM1084.00,378.8v-114.6h0.5v114.6zM1084.50,378.8v-104.6h0.5v104.6zM1085.00,378.8v-112.5h0.5v112.5zM1085.50,378.8v-114.2h0.5v114.2zM1086.00,378.8v-116.4h0.5v116.4zM1086.50,378.8v-65.3h0.5v65.3zM1087.00,378.8v-81.0h0.5v81.0zM1087.50,378.8v-118.9h0.5v118.9zM1088.00,378.8v-108.1h0.5v108.1zM1088.50,378.8v-130.3h0.5v130.3zM1089.00,378.8v-101.0h0.5v101.0zM1089.50,378.8v-103.4h0.5v103.4zM1090.00,378.8v-58.2h0.5v58.2zM1090.50,378.8v-74.3h0.5v74.3zM1091.00,378.8v-98.2h0.5v98.2zM1091.50,378.8v-101.1h0.5v101.1zM1092.00,378.8v-115.2h0.5v115.2zM1092.50,378.8v-88.2h0.5v88.2zM1093.00,378.8v-99.4h0.5v99.4zM1093.50,378.8v-50.8h0.5v50.8zM1094.00,378.8v-53.4h0.5v53.4zM1094.50,378.8v-95.1h0.5v95.1zM1095.00,378.8v-91.3h0.5v91.3zM1095.50,378.8v-96.6h0.5v96.6zM1096.00,378.8v-88.6h0.5v88.6zM1096.50,378.8v-82.0h0.5v82.0zM1097.00,378.8v-51.0h0.5v51.0zM1097.50,378.8v-49.3h0.5v49.3zM1098.00,378.8v-85.8h0.5v85.8zM1098.50,378.8v-82.0h0.5v82.0zM1099.00,378.8v-80.9h0.5v80.9zM1099.50,378.8v-76.4h0.5v76.4zM1100.00,378.8v-69.3h0.5v69.3zM1100.50,378.8v-40.9h0.5v40.9zM1101.00,378.8v-42.9h0.5v42.9zM1101.50,378.8v-72.3h0.5v72.3zM1102.00,378.8v-58.8h0.5v58.8zM1102.50,378.8v-68.7h0.5v68.7zM1103.00,378.8v-64.3h0.5v64.3zM1103.50,378.8v-61.3h0.5v61.3zM1104.00,378.8v-43.0h0.5v43.0zM1104.50,378.8v-35.9h0.5v35.9zM1105.00,378.8v-56.1h0.5v56.1zM1105.50,378.8v-54.2h0.5v54.2zM1106.00,378.8v-47.1h0.5v47.1zM1106.50,378.8v-54.4h0.5v54.4zM1107.00,378.8v-52.9h0.5v52.9zM1107.50,378.8v-26.9h0.5v26.9zM1108.00,378.8v-29.2h0.5v29.2zM1108.50,378.8v-46.1h0.5v46.1zM1109.00,378.8v-41.7h0.5v41.7zM1109.50,378.8v-37.8h0.5v37.8zM1110.00,378.8v-39.6h0.5v39.6zM1110.50,378.8v-37.8h0.5v37.8zM1111.00,378.8v-20.6h0.5v20.6zM1111.50,378.8v-26.7h0.5v26.7zM1112.00,378.8v-37.9h0.5v37.9zM1112.50,378.8v-40.7h0.5v40.7zM1113.00,378.8v-38.1h0.5v38.1zM1113.50,378.8v-32.5h0.5v32.5zM1114.00,378.8v-32.6h0.5v32.6zM1114.50,378.8v-21.0h0.5v21.0zM1115.00,378.8v-19.0h0.5v19.0zM1115.50,378.8v-29.3h0.5v29.3zM1116.00,378.8v-26.6h0.5v26.6zM1116.50,378.8v-29.4h0.5v29.4zM1117.00,378.8v-25.9h0.5v25.9zM1117.50,378.8v-25.0h0.5v25.0zM1118.00,378.8v-17.6h0.5v17.6zM1118.50,378.8v-15.2h0.5v15.2zM1119.00,378.8v-23.2h0.5v23.2zM1119.50,378.8v-20.3h0.5v20.3zM1120.00,378.8v-20.3h0.5v20.3zM1120.50,378.8v-20.3h0.5v20.3zM1121.00,378.8v-18.7h0.5v18.7zM1121.50,378.8v-9.5h0.5v9.5zM1122.00,378.8v-10.9h0.5v10.9zM1122.50,378.8v-17.4h0.5v17.4zM1123.00,378.8v-16.8h0.5v16.8zM1123.50,378.8v-17.7h0.5v17.7zM1124.00,378.8v-15.9h0.5v15.9zM1124.50,378.8v-15.6h0.5v15.6zM1125.00,378.8v-9.9h0.5v9.9zM1125.50,378.8v-8.0h0.5v8.0zM1126.00,378.8v-14.4h0.5v14.4zM1126.50,378.8v-12.5h0.5v12.5zM1127.00,378.8v-12.8h0.5v12.8zM1127.50,378.8v-12.9h0.5v12.9zM1128.00,378.8v-12.1h0.5v12.1zM1128.50,378.8v-6.9h0.5v6.9zM1129.00,378.8v-6.9h0.5v6.9zM1129.50,378.8v-12.6h0.5v12.6zM1130.00,378.8v-11.8h0.5v11.8zM1130.50,378.8v-11.9h0.5v11.9zM1131.00,378.8v-10.5h0.5v10.5zM1131.50,378.8v-10.7h0.5v10.7zM1132.00,378.8v-5.4h0.5v5.4zM1132.50,378.8v-5.8h0.5v5.8zM1133.00,378.8v-9.7h0.5v9.7zM1133.50,378.8v-10.5h0.5v10.5zM1134.00,378.8v-10.1h0.5v10.1zM1134.50,378.8v-8.8h0.5v8.8zM1135.00,378.8v-7.6h0.5v7.6zM1135.50,378.8v-5.8h0.5v5.8zM1136.00,378.8v-5.7h0.5v5.7zM1136.50,378.8v-6.2h0.5v6.2zM1137.00,378.8v-7.4h0.5v7.4zM1137.50,378.8v-7.6h0.5v7.6zM1138.00,378.8v-7.3h0.5v7.3zM1138.50,378.8v-7.0h0.5v7.0zM1139.00,378.8v-4.2h0.5v4.2zM1139.50,378.8v-4.0h0.5v4.0zM1140.00,378.8v-6.8h0.5v6.8zM1140.50,378.8v-6.6h0.5v6.6zM1141.00,378.8v-6.4h0.5v6.4zM1141.50,378.8v-6.7h0.5v6.7zM1142.00,378.8v-6.8h0.5v6.8zM1142.50,378.8v-3.4h0.5v3.4zM1143.00,378.8v-4.2h0.5v4.2zM1143.50,378.8v-6.5h0.5v6.5zM1144.00,378.8v-6.0h0.5v6.0zM1144.50,378.8v-6.1h0.5v6.1zM1145.00,378.8v-5.5h0.5v5.5zM1145.50,378.8v-6.6h0.5v6.6zM1146.00,378.8v-4.3h0.5v4.3zM1146.50,378.8v-3.3h0.5v3.3zM1147.00,378.8v-6.2h0.5v6.2zM1147.50,378.8v-7.6h0.5v7.6zM1148.00,378.8v-8.5h0.5v8.5zM1148.50,378.8v-8.3h0.5v8.3zM1149.00,378.8v-10.4h0.5v10.4zM1149.50,378.8v-5.8h0.5v5.8zM1150.00,378.8v-6.5h0.5v6.5zM1150.50,378.8v-11.7h0.5v11.7zM1151.00,378.8v-15.2h0.5v15.2zM1151.50,378.8v-20.2h0.5v20.2zM1152.00,378.8v-20.0h0.5v20.0zM1152.50,378.8v-24.4h0.5v24.4zM1153.00,378.8v-12.6h0.5v12.6z" fill="#c3d0ea"/>
<path fill="none" stroke="#d8141c" stroke-width="1.15" stroke-linejoin="round" d="M817.90,378.80 C824.92,378.77 845.37,378.75 860.00,378.60 C874.63,378.45 897.03,378.13 905.70,377.90 C914.37,377.67 909.78,377.57 912.00,377.20 C914.22,376.83 917.10,376.55 919.00,375.70 C920.90,374.85 921.18,373.33 923.40,372.10 C925.62,370.87 929.87,369.73 932.30,368.30 C934.73,366.87 936.15,364.98 938.00,363.50 C939.85,362.02 941.90,359.85 943.40,359.40 C944.90,358.95 945.52,360.60 947.00,360.80 C948.48,361.00 950.67,359.72 952.30,360.60 C953.93,361.48 954.95,364.43 956.80,366.10 C958.65,367.77 961.70,369.85 963.40,370.60 C965.10,371.35 965.52,370.98 967.00,370.60 C968.48,370.22 970.82,369.23 972.30,368.30 C973.78,367.37 974.62,366.47 975.90,365.00 C977.18,363.53 978.73,362.10 980.00,359.50 C981.27,356.90 982.33,353.15 983.50,349.40 C984.67,345.65 985.90,340.88 987.00,337.00 C988.10,333.12 989.07,329.40 990.10,326.10 C991.13,322.80 992.22,318.30 993.20,317.20 C994.18,316.10 995.00,318.75 996.00,319.50 C997.00,320.25 998.20,320.87 999.20,321.70 C1000.20,322.53 1001.07,323.40 1002.00,324.50 C1002.93,325.60 1003.60,325.62 1004.80,328.30 C1006.00,330.98 1007.90,337.08 1009.20,340.60 C1010.50,344.12 1011.30,348.12 1012.60,349.40 C1013.90,350.68 1015.33,347.73 1017.00,348.30 C1018.67,348.87 1020.57,351.50 1022.60,352.80 C1024.63,354.10 1026.98,355.37 1029.20,356.10 C1031.42,356.83 1034.18,357.47 1035.90,357.20 C1037.62,356.93 1038.38,355.80 1039.50,354.50 C1040.62,353.20 1041.17,352.47 1042.60,349.40 C1044.03,346.33 1046.70,341.33 1048.10,336.10 C1049.50,330.87 1050.07,323.92 1051.00,318.00 C1051.93,312.08 1052.70,304.25 1053.70,300.60 C1054.70,296.95 1056.12,299.03 1057.00,296.10 C1057.88,293.17 1058.27,287.45 1059.00,283.00 C1059.73,278.55 1060.65,273.07 1061.40,269.40 C1062.15,265.73 1062.75,263.03 1063.50,261.00 C1064.25,258.97 1065.07,257.03 1065.90,257.20 C1066.73,257.37 1067.58,260.33 1068.50,262.00 C1069.42,263.67 1070.17,264.92 1071.40,267.20 C1072.63,269.48 1074.63,274.73 1075.90,275.70 C1077.17,276.67 1077.88,273.78 1079.00,273.00 C1080.12,272.22 1081.08,270.12 1082.60,271.00 C1084.12,271.88 1086.63,275.97 1088.10,278.30 C1089.57,280.63 1090.33,282.63 1091.40,285.00 C1092.47,287.37 1093.38,289.53 1094.50,292.50 C1095.62,295.47 1096.77,298.55 1098.10,302.80 C1099.43,307.05 1101.02,312.82 1102.50,318.00 C1103.98,323.18 1105.52,329.77 1107.00,333.90 C1108.48,338.03 1109.98,339.78 1111.40,342.80 C1112.82,345.82 1114.02,349.03 1115.50,352.00 C1116.98,354.97 1118.63,358.35 1120.30,360.60 C1121.97,362.85 1123.65,364.03 1125.50,365.50 C1127.35,366.97 1129.57,368.37 1131.40,369.40 C1133.23,370.43 1134.63,371.07 1136.50,371.70 C1138.37,372.33 1141.02,372.95 1142.60,373.20 C1144.18,373.45 1145.08,373.45 1146.00,373.20 C1146.92,372.95 1147.43,372.48 1148.10,371.70 C1148.77,370.92 1149.45,369.98 1150.00,368.50 C1150.55,367.02 1150.78,365.42 1151.40,362.80 C1152.02,360.18 1153.32,354.47 1153.70,352.80"/>
<rect x="931.1" y="393.8" width="6.4" height="1.2" fill="#c3d0ea"/>
<rect x="993.7" y="393.7" width="6.8" height="1.3" fill="#e0161c"/>
<text x="938" y="396.3" font-family="DejaVu Sans Condensed,DejaVu Sans,sans-serif" font-size="4.6" fill="#3a3a3a" textLength="46" lengthAdjust="spacingAndGlyphs">нийт батлагдсан тохиолдол</text>
<text x="1001.5" y="396.3" font-family="DejaVu Sans Condensed,DejaVu Sans,sans-serif" font-size="4.6" fill="#3a3a3a" textLength="51.8" lengthAdjust="spacingAndGlyphs">7 хоногийн хөдөлгөөнт дундаж</text>
</svg>
<svg width="1200" height="900" style="left:0;top:0" viewBox="0 0 1200 900">
<g fill="#fff">
<rect x="158.7" y="224" width="2.4" height="8"/>
<path d="M157.3,230.5 C156.8,228.8 155.5,227.6 153.8,228 C150.5,229 147.5,235 146.2,240.5 C145.6,243.5 146.3,246 148.5,246.5 C151,247 154.5,245.8 156.5,244.5 Z"/>
<path d="M162.5,230.5 C163,228.8 164.3,227.6 166,228 C169.3,229 172.3,235 173.6,240.5 C174.2,243.5 173.5,246 171.3,246.5 C168.8,247 165.3,245.8 163.3,244.5 Z"/>
</g>
<g fill="#13264a" stroke="#13264a" stroke-width="1.8"><circle cx="160" cy="238.2" r="4.6"/><circle cx="164.80" cy="240.19" r="1.3"/><circle cx="161.99" cy="243.00" r="1.3"/><circle cx="158.01" cy="243.00" r="1.3"/><circle cx="155.20" cy="240.19" r="1.3"/><circle cx="155.20" cy="236.21" r="1.3"/><circle cx="158.01" cy="233.40" r="1.3"/><circle cx="161.99" cy="233.40" r="1.3"/><circle cx="164.80" cy="236.21" r="1.3"/></g>
<g fill="#fff"><circle cx="160" cy="238.2" r="4.6"/><circle cx="164.80" cy="240.19" r="1.3"/><circle cx="161.99" cy="243.00" r="1.3"/><circle cx="158.01" cy="243.00" r="1.3"/><circle cx="155.20" cy="240.19" r="1.3"/><circle cx="155.20" cy="236.21" r="1.3"/><circle cx="158.01" cy="233.40" r="1.3"/><circle cx="161.99" cy="233.40" r="1.3"/><circle cx="164.80" cy="236.21" r="1.3"/></g>
<circle cx="158.4" cy="236.6" r="0.55" fill="#13264a"/><circle cx="161.4" cy="239.4" r="0.55" fill="#13264a"/>
<g transform="translate(273.8,235.9) scale(1.0)" fill="none" stroke="#fff" stroke-width="1.35"><circle cx="0" cy="0" r="12.1"/><ellipse cx="0" cy="-4.3" rx="3.3" ry="3.9"/><path d="M-5.8,7.6 L-5.8,4.6 C-5.8,3.2 -4.6,2.4 -2.8,2.3 L-1,2.3 L0,3.6 L1,2.3 L2.8,2.3 C4.6,2.4 5.8,3.2 5.8,4.6 L5.8,7.6 Z"/><path d="M-3.2,-5.6 C-2,-7.5 2,-7.5 3.2,-5.6 L3.2,-4.8 C1.5,-5.8 -1.5,-5.8 -3.2,-4.8 Z" fill="#fff" stroke="none"/><circle cx="8.7" cy="-8.5" r="3.9" fill="#224a80"/><path d="M6.5,-8.5 H10.9" stroke-width="1.6"/></g>
<g transform="translate(288.6,551.1) scale(1.04)" fill="none" stroke="#fff" stroke-width="1.35"><circle cx="0" cy="0" r="12.1"/><ellipse cx="0" cy="-4.3" rx="3.3" ry="3.9"/><path d="M-5.8,7.6 L-5.8,4.6 C-5.8,3.2 -4.6,2.4 -2.8,2.3 L-1,2.3 L0,3.6 L1,2.3 L2.8,2.3 C4.6,2.4 5.8,3.2 5.8,4.6 L5.8,7.6 Z"/><path d="M-3.2,-5.6 C-2,-7.5 2,-7.5 3.2,-5.6 L3.2,-4.8 C1.5,-5.8 -1.5,-5.8 -3.2,-4.8 Z" fill="#fff" stroke="none"/><circle cx="8.7" cy="-8.5" r="3.9" fill="#224a80"/><path d="M6.5,-8.5 H10.9" stroke-width="1.6"/></g>
<path transform="translate(68,304) scale(0.0333)" fill="#fff" d="M740,95 C770,140 720,250 600,370 L690,720 L650,755 L500,545 L370,680 L355,800 L320,805 L245,655 L95,600 L100,570 L240,565 L335,430 L95,285 L110,245 L480,255 C600,140 700,85 740,95 Z"/>
<g transform="translate(182,298) scale(0.03556)" fill="#fff"><path d="M60,825 L790,825 L720,700 L650,640 L580,612 L500,640 L420,620 L330,600 L230,570 L150,600 L90,700 Z"/><path d="M215,85 L245,100 L300,180 L330,215 L345,170 L350,110 L380,95 L405,120 L410,200 L440,230 L470,260 L450,330 L480,390 L540,450 L580,520 L605,600 L560,612 L520,565 L470,605 L420,565 L350,525 L300,525 L270,565 L240,578 L258,500 L230,445 L190,472 L150,482 L128,445 L160,420 L200,402 L180,362 L150,352 L120,382 L108,342 L150,300 L140,262 L170,232 L220,222 L258,240 L278,202 L240,140 Z"/></g>
<g fill="none" stroke="#fff" stroke-width="1.2"><rect x="74.8" y="457.8" width="13.8" height="26.4"/><path d="M74.8,465.7 H67.8 V484.2 H74.8 M88.6,465.7 H95.9 V484.2 H88.6"/></g><g fill="#fff"><rect x="69.4" y="467.4" width="3.8" height="3.8"/><rect x="69.4" y="473.4" width="3.8" height="3.8"/><rect x="69.4" y="479.2" width="3.8" height="3.8"/><rect x="90.5" y="467.4" width="3.8" height="3.8"/><rect x="90.5" y="473.4" width="3.8" height="3.8"/><rect x="90.5" y="479.2" width="3.8" height="3.8"/><rect x="76.7" y="466.2" width="3.8" height="3.8"/><rect x="82.6" y="466.2" width="3.8" height="3.8"/><rect x="76.7" y="472.2" width="3.8" height="3.8"/><rect x="82.6" y="472.2" width="3.8" height="3.8"/><rect x="78.8" y="478.3" width="6" height="5.9"/><path d="M80.2,460.3 V464 M83.3,460.3 V464 M80.2,462.2 H83.3" stroke="#fff" stroke-width="0.9"/></g><g fill="#13264a"><circle cx="71.30000000000001" cy="469.29999999999995" r="0.65"/><circle cx="71.30000000000001" cy="475.29999999999995" r="0.65"/><circle cx="71.30000000000001" cy="481.09999999999997" r="0.65"/><circle cx="92.4" cy="469.29999999999995" r="0.65"/><circle cx="92.4" cy="475.29999999999995" r="0.65"/><circle cx="92.4" cy="481.09999999999997" r="0.65"/><circle cx="78.60000000000001" cy="468.09999999999997" r="0.65"/><circle cx="84.5" cy="468.09999999999997" r="0.65"/><circle cx="78.60000000000001" cy="474.09999999999997" r="0.65"/><circle cx="84.5" cy="474.09999999999997" r="0.65"/><rect x="80.3" y="479.8" width="3" height="4.4"/></g>
<g fill="none" stroke="#fff" stroke-width="1.05">
<path d="M198.6,464 C204,464 207.5,467 208.5,470.2 C211,470.2 212,472.5 211.6,474.6 C211.2,476.6 209.7,477.6 208.6,477.4 C207.2,482 203.5,485.4 198.6,485.4 C193.7,485.4 190,482 188.6,477.4 C187.5,477.6 186,476.6 185.6,474.6 C185.2,472.5 186.2,470.2 188.7,470.2 C189.7,467 193.2,464 198.6,464 Z"/>
<path d="M197.8,464 C195.5,463 195.6,458.3 198.8,458 C201.6,457.8 202.2,461.6 199.8,462 C198.7,462.2 198.2,461.2 198.8,460.6"/>
<path d="M195.6,480.2 C197.5,481.2 199.8,481.2 201.7,480.2" stroke-linecap="round"/>
</g>
<circle cx="195.5" cy="475.6" r="1" fill="#fff"/><circle cx="202.3" cy="475.6" r="1" fill="#fff"/>
<g fill="#fff"><circle cx="312.8" cy="459.9" r="4.3"/><circle cx="316.6" cy="455.8" r="1.9"/>
<path d="M311,465.3 C313,464.8 315.6,465 316.6,466.6 L317,485.3 L306.5,485.3 C303.5,483.5 302.3,480.5 302.8,477.5 C303.3,474.5 305.5,472.5 308,471.3 C308.3,469 309,466.5 311,465.3 Z"/></g>
<path d="M314.4,469.4 C314,472 312.5,474.6 310.2,476.3 C308.3,477.6 305.6,477.3 305.6,475.8 C305.7,474.5 307,473.6 309,473.1" fill="none" stroke="#13264a" stroke-width="0.75"/>
<path fill="#fff" d="M132.9,534.8 L139.9,541 L139.9,537 L144.5,537 L144.5,545 L148,548.3 L147,549.8 L144.8,549.8 L144.8,561.6 L121.2,561.6 L121.2,549.8 L119,549.8 L118,548.3 Z"/>
<g fill="#13264a"><circle cx="132.9" cy="547.4" r="2.9"/><path d="M126.4,557.6 C126.6,554.6 129.4,552.8 132.9,552.8 C136.4,552.8 139.2,554.6 139.4,557.6 Z"/></g>
<circle cx="132.9" cy="547.4" r="1.6" fill="#224a80"/>
<path d="M128.3,556.4 C128.8,554.9 130.6,554 132.9,554 C135.2,554 137,554.9 137.5,556.4 Z" fill="#224a80"/>
<g transform="translate(296.3,311.3) scale(0.0978,0.0987) translate(-432.4,-225)" fill="#fff" stroke="#fff" stroke-width="11" stroke-linejoin="round">
<polygon points="432.4,277.2 433.6,271.7 436.3,267.8 441.3,266.7 446.3,265.6 451.9,261.1 457.4,258.3 461.3,265.0 465.8,270.6 470.8,277.8 465.2,282.2 467.4,291.7 470.8,300.6 473.6,307.2 476.9,312.2 470.2,313.9 466.3,311.7 461.9,303.9 460.2,298.3 454.7,293.9 449.1,290.6 444.7,289.4 440.2,286.1 436.9,282.8 433.0,280.6"/>
<polygon points="457.4,258.3 464.7,252.8 472.4,249.4 476.9,246.7 481.3,245.6 483.6,247.2 486.9,246.1 488.6,248.3 494.7,249.4 501.3,249.4 504.7,257.2 513.6,260.6 515.8,267.2 516.3,272.8 513.6,278.3 505.8,279.4 499.1,280.6 493.6,283.9 488.6,280.6 480.2,280.6 475.8,276.1 470.8,277.8 465.8,270.6 461.3,265.0"/>
<polygon points="465.2,282.2 470.8,277.8 475.8,276.1 480.2,280.6 488.6,280.6 493.6,283.9 491.3,290.6 494.5,296.5 499.1,305.0 500.5,309.0 494.4,313.9 490.6,323.9 488.9,337.2 480.2,337.2 471.1,336.7 465.6,333.9 463.6,327.2 466.3,320.6 466.3,313.9 470.2,313.9 476.9,312.2 473.6,307.2 470.8,300.6 467.4,291.7"/>
<polygon points="513.6,260.6 521.1,258.3 526.7,260.6 531.1,261.7 530.6,266.1 532.2,268.3 540.0,269.4 546.7,272.8 552.8,273.9 553.9,280.6 553.9,286.5 548.9,287.8 543.9,291.1 543.9,295.6 545.3,298.5 541.7,303.3 539.4,308.9 538.9,312.5 536.1,312.8 531.7,312.2 529.4,308.9 525.0,308.3 522.2,303.9 515.6,299.4 504.4,296.1 494.5,296.5 491.3,290.6 493.6,283.9 499.1,280.6 505.8,279.4 513.6,278.3 516.3,272.8 515.8,267.2"/>
<polygon points="494.5,296.5 504.4,296.1 515.6,299.4 522.2,303.9 525.0,308.3 529.4,308.9 531.7,312.2 536.1,312.8 538.9,312.5 540.0,317.2 545.6,323.9 546.7,333.9 543.3,347.2 541.1,361.7 540.5,371.5 524.4,371.7 522.2,367.2 517.8,357.2 513.3,350.6 507.8,348.3 500.0,343.9 495.6,339.4 488.9,337.2 490.6,323.9 494.4,313.9 500.5,309.0 499.1,305.0"/>
<polygon points="552.2,225.0 555.6,227.2 563.3,229.4 572.2,231.7 581.1,233.9 586.7,237.2 586.7,243.9 587.8,246.7 591.1,252.2 586.7,256.7 590.0,263.3 584.4,267.8 582.0,272.0 573.3,272.8 567.2,276.7 560.6,283.9 553.9,286.5 553.9,280.6 552.8,273.9 546.7,272.8 540.0,269.4 532.2,268.3 530.6,266.1 534.4,261.7 540.0,258.3 543.3,252.8 544.4,248.3 540.0,242.8 540.6,236.1 545.6,230.6 550.0,227.2"/>
<polygon points="553.9,286.5 560.6,283.9 567.2,276.7 573.3,272.8 582.0,272.0 581.1,276.7 584.4,283.3 590.0,292.2 594.4,302.5 586.7,306.7 578.3,310.6 575.0,310.0 569.4,308.9 567.2,306.7 562.8,305.6 560.6,301.1 558.3,298.3 553.9,299.4 550.6,298.3 548.3,296.7 545.3,298.5 543.9,295.6 543.9,291.1 548.9,287.8"/>
<polygon points="545.3,298.5 548.3,296.7 550.6,298.3 553.9,299.4 558.3,298.3 560.6,301.1 562.8,305.6 567.2,306.7 569.4,308.9 575.0,310.0 578.3,310.6 578.9,317.2 576.7,328.3 575.6,335.0 578.9,341.7 581.1,351.7 566.7,353.9 557.8,350.6 558.3,372.8 540.5,371.5 541.1,361.7 543.3,347.2 546.7,333.9 545.6,323.9 540.0,317.2 538.9,312.5 539.4,308.9 541.7,303.3"/>
<polygon points="578.3,310.6 586.7,306.7 594.4,302.5 600.0,302.5 608.0,301.5 607.8,306.7 611.0,315.3 606.7,320.5 602.2,328.3 603.3,335.0 598.9,339.4 594.4,349.4 581.1,351.7 578.9,341.7 575.6,335.0 576.7,328.3 578.9,317.2"/>
<polygon points="591.1,252.2 596.7,254.4 602.2,255.6 611.1,254.4 613.3,262.2 612.2,272.2 611.1,281.1 613.3,287.8 614.4,296.7 608.0,301.5 600.0,302.5 594.4,302.5 590.0,292.2 584.4,283.3 581.1,276.7 582.0,272.0 584.4,267.8 590.0,263.3 586.7,256.7"/>
<polygon points="611.1,254.4 618.9,251.1 627.8,252.2 635.6,253.3 640.0,257.8 647.8,260.0 651.1,265.6 653.3,270.0 653.3,273.3 646.7,274.4 644.4,277.8 642.2,282.2 635.6,281.1 627.8,278.3 622.2,278.9 616.7,282.8 611.1,281.1 612.2,272.2 613.3,262.2"/>
<polygon points="611.1,281.1 616.7,282.8 622.2,278.9 627.8,278.3 635.6,281.1 642.2,282.2 644.4,277.8 646.7,274.4 653.3,273.3 657.8,281.1 657.8,287.8 652.2,294.4 653.3,298.9 656.7,305.6 660.0,310.0 651.1,311.3 646.7,313.3 638.9,312.2 632.2,313.3 624.4,312.2 615.6,315.6 611.0,315.3 607.8,306.7 608.0,301.5 614.4,296.7 613.3,287.8"/>
<polygon points="611.0,315.3 615.6,315.6 624.4,312.2 632.2,313.3 638.9,312.2 646.7,313.3 651.1,311.3 654.4,321.1 653.3,337.8 646.7,343.3 636.7,345.6 626.7,347.8 620.0,342.2 617.8,341.7 608.9,339.4 603.3,335.0 602.2,328.3 606.7,320.5"/>
<polygon points="557.8,350.6 566.7,353.9 581.1,351.7 594.4,349.4 598.9,339.4 603.3,335.0 608.9,339.4 617.8,341.7 620.0,342.2 626.7,347.8 636.7,345.6 646.7,343.3 646.7,348.9 648.9,360.0 650.0,375.6 636.7,377.8 625.6,382.2 615.6,387.2 606.7,385.0 595.6,382.8 584.4,379.4 578.9,375.0 567.8,373.9 558.3,372.8"/>
<polygon points="651.1,311.3 660.0,310.0 662.2,315.6 667.8,316.7 672.2,313.3 676.7,317.8 684.4,320.0 686.7,327.8 688.9,334.4 690.0,337.0 686.7,343.3 686.7,350.0 691.1,356.7 681.1,364.4 670.0,372.2 662.2,375.6 650.0,375.6 648.9,360.0 646.7,348.9 646.7,343.3 653.3,337.8 654.4,321.1"/>
<polygon points="653.3,270.0 662.2,271.1 673.3,272.2 684.4,271.1 693.3,267.8 694.4,268.3 695.6,281.7 697.8,288.9 698.9,295.6 691.1,298.9 687.8,305.6 685.6,314.4 684.4,320.0 676.7,317.8 672.2,313.3 667.8,316.7 662.2,315.6 660.0,310.0 656.7,305.6 653.3,298.9 652.2,294.4 657.8,287.8 657.8,281.1 653.3,273.3"/>
<polygon points="694.4,268.3 702.2,265.0 706.7,260.6 713.3,255.0 720.0,255.0 726.7,259.4 734.4,259.4 741.1,261.7 738.9,270.6 734.4,281.7 730.0,289.4 733.3,295.0 743.3,293.9 752.2,296.1 755.6,291.7 761.1,292.8 767.8,299.4 774.4,306.1 775.6,311.7 767.8,311.7 761.1,311.7 754.4,312.8 748.9,316.1 742.2,316.1 737.8,313.9 732.2,312.8 722.2,311.7 717.8,305.0 712.2,300.6 704.4,297.2 698.9,295.6 697.8,288.9 695.6,281.7"/>
<polygon points="698.9,295.6 704.4,297.2 712.2,300.6 717.8,305.0 722.2,311.7 732.2,312.8 737.8,313.9 736.7,322.8 730.0,329.4 721.1,332.8 712.2,338.3 706.7,340.6 696.7,337.2 690.0,337.0 688.9,334.4 686.7,327.8 684.4,320.0 685.6,314.4 687.8,305.6 691.1,298.9"/>
</g>
<g transform="translate(943.1,538.4) rotate(-45)" fill="#fff">
<rect x="-1" y="-10.5" width="3" height="21" rx="0.8"/>
<rect x="1.5" y="-2.5" width="10" height="5"/>
<rect x="10.5" y="-9.5" width="3" height="19" rx="1.3"/>
<rect x="12" y="-6.6" width="66.4" height="13.2" rx="1"/>
<rect x="76" y="-3.9" width="13.4" height="7.8" rx="2.6"/>
<rect x="88" y="-0.9" width="32.4" height="1.8"/>
</g>
<path fill="#fff" d="M1029.1,457.6 C1028,460.5 1026.2,462.5 1026.2,465.2 C1026.2,467 1027.5,468.4 1029.2,468.4 C1030.9,468.4 1032.2,467 1032.2,465.2 C1032.2,462.5 1030.3,460.5 1029.1,457.6 Z"/>
<g fill="none" stroke="#fff" stroke-width="1.3" stroke-linejoin="round">
<circle cx="146.6" cy="701.4" r="15.7"/>
<path d="M136.9,713.2 L143.6,708.8 L136.6,707.6 C136,707.3 136,706.7 136.3,706.3 L139,702.8 C139.8,700.5 140.2,698.5 140.3,696.5 C140.6,693 143,691 146.3,691 C149.6,691 152,693 152.3,696.5 C152.4,698.5 152.8,700.5 153.6,702.8 L156.3,706.3 C156.6,706.7 156.6,707.3 156,707.6 L149.3,708.8 L155.9,713.2"/>
<circle cx="288.2" cy="700.7" r="15.4"/>
<path d="M278.9,712.4 L284.4,709 L284.8,705.6 L282.7,701.8 C281.9,700.9 281.6,699.8 282,698 L282.2,693 C282.6,690.7 284.8,689.2 287.8,689.2 C290.8,689.2 293,690.7 293.5,693 L294,698 C294.4,699.8 294.1,700.9 293.2,701.8 L291.3,705.6 L291.5,709 L297.2,712.4"/>
<circle cx="146.7" cy="749.4" r="16.1" stroke-width="1.2"/>
<circle cx="201.7" cy="749.4" r="16.1" stroke-width="1.2"/>
<circle cx="257.0" cy="749.4" r="16.1" stroke-width="1.2"/>
<circle cx="310.7" cy="749.4" r="16.1" stroke-width="1.2"/>
<circle cx="365.2" cy="749.4" r="16.1" stroke-width="1.2"/>
</g>
<path fill="#fff" d="M150.4,803 C148,799.6 143,799.2 140,800.8 C136.5,802.8 135.8,807 137,810.5 C139,815.5 146,821 150.4,825.5 C154.8,821 161.8,815.5 163.8,810.5 C165,807 164.3,802.8 160.8,800.8 C157.8,799.2 152.8,799.6 150.4,803 Z"/>
<path fill="none" stroke="#13264a" stroke-width="1.2" stroke-linejoin="round" d="M135.5,812.7 L143.3,812.7 L145.1,806.3 L149,819 L151.1,813 L154.7,813 L156.5,805.9 L158.6,812.7 L165.5,812.7"/>
<g fill="#fff"><circle cx="291" cy="812.2" r="10.4"/><line x1="291" y1="812.2" x2="291.00" y2="799.20" stroke="#fff" stroke-width="4.3"/><circle cx="291.00" cy="799.00" r="2.35"/><line x1="291" y1="812.2" x2="300.19" y2="803.01" stroke="#fff" stroke-width="4.3"/><circle cx="300.33" cy="802.87" r="2.35"/><line x1="291" y1="812.2" x2="304.00" y2="812.20" stroke="#fff" stroke-width="4.3"/><circle cx="304.20" cy="812.20" r="2.35"/><line x1="291" y1="812.2" x2="300.19" y2="821.39" stroke="#fff" stroke-width="4.3"/><circle cx="300.33" cy="821.53" r="2.35"/><line x1="291" y1="812.2" x2="291.00" y2="825.20" stroke="#fff" stroke-width="4.3"/><circle cx="291.00" cy="825.40" r="2.35"/><line x1="291" y1="812.2" x2="281.81" y2="821.39" stroke="#fff" stroke-width="4.3"/><circle cx="281.67" cy="821.53" r="2.35"/><line x1="291" y1="812.2" x2="278.00" y2="812.20" stroke="#fff" stroke-width="4.3"/><circle cx="277.80" cy="812.20" r="2.35"/><line x1="291" y1="812.2" x2="281.81" y2="803.01" stroke="#fff" stroke-width="4.3"/><circle cx="281.67" cy="802.87" r="2.35"/></g><circle cx="288.8" cy="810.3" r="2.7" fill="#13264a"/><circle cx="288.8" cy="810.3" r="1.3" fill="#2a5590"/><circle cx="293.8" cy="815" r="1.1" fill="#13264a"/>
<circle cx="490.4" cy="748.7" r="48.9" fill="none" stroke="#f2f2f2" stroke-width="13.4"/>
<circle cx="490.4" cy="748.7" r="48.9" fill="none" stroke="#fcc200" stroke-width="13.4" stroke-dasharray="243.34 307.25" transform="rotate(-90 490.4 748.7)"/>
<rect x="434.7" y="804" width="11.3" height="11.3" fill="#fcc200"/>
<rect x="434.7" y="836.6" width="11.8" height="10.8" fill="#fff"/>
<path d="M553.6,753.8 H574.1 M574.1,689.2 V839 M574.1,689.2 H594.4 M574.1,714.1 H594.4 M574.1,739.2 H594.4 M574.1,764.1 H594.4 M574.1,789.1 H594.4 M574.1,814.3 H594.4 M574.1,839 H594.4" stroke="#b9ad7c" stroke-width="1.3" fill="none"/>
<g fill="#f7c31b">
<path d="M600.7,687 C600,683.5 602.6,682.3 605,683.3 L611.5,683.3 C614.5,684.3 615.4,688 614.6,691.5 C613.6,695 611,698.2 608,698.9 C604.5,699 601.5,694 600.7,687 Z"/>
<rect x="603.8" y="679" width="1.7" height="5.2"/><rect x="607.6" y="679" width="1.5" height="5.2"/><rect x="611" y="679" width="1.8" height="5.2"/>
<ellipse cx="607.7" cy="734" rx="2.9" ry="5"/><ellipse cx="618.4" cy="734.3" rx="3" ry="5"/>
<circle cx="613.1" cy="742.4" r="2.2"/><rect x="612.6" y="738.5" width="1.1" height="4"/><rect x="612.6" y="743" width="1" height="4.2"/>
<path d="M616.8,756 C614,754.2 609,753.8 606.5,755.6 C604.4,757.2 604.1,760.5 604.5,764 C604.9,767 605.5,769.5 606.6,770 C608.5,769 610.5,765.5 616.8,764.7 Z"/>
<path d="M618,756.2 C621,756.3 624.5,757.5 625.3,759.3 C624.5,761.5 621.5,763.2 618,764.1 Z"/>
<path d="M613.5,793.6 L618.2,794.3 C619.2,796 620,798 619.8,800 C617.5,799 615,797 613.5,793.6 Z"/>
<circle cx="614.1" cy="811.5" r="2.3"/>
<circle cx="612.7" cy="804.1" r="2.3"/>
<circle cx="617.4" cy="808.5" r="1.6"/>
<circle cx="607.7" cy="816.1" r="2.4"/>
<circle cx="614.2" cy="816.6" r="1.6"/>
<circle cx="621.2" cy="815.4" r="2.4"/>
</g>
<g stroke="#f7c31b" stroke-width="0.9" fill="none">
<path d="M614.1,811.5 L612.7,804.1 M614.1,811.5 L617.4,808.5 M614.1,811.5 L607.7,816.1 M614.1,811.5 L614.2,816.6 M614.1,811.5 L621.2,815.4 M614.1,811.5 L609.1,809.4"/>
</g><circle cx="609.1" cy="809.4" r="1.1" fill="#e8e0b0"/>
<path d="M611,683.8 L609,689 L611.3,691.8 L611.5,694.5" fill="none" stroke="#13264a" stroke-width="0.7"/>
<path d="M602.4,684.2 C605,685.5 607.5,687 609.5,689" fill="none" stroke="#13264a" stroke-width="0.6"/>
<path d="M612.3,739 L610.6,735.2 M613.9,739 L615.3,735.2" stroke="#f7c31b" stroke-width="0.8"/>
<path d="M617.4,755.8 V764.5" stroke="#13264a" stroke-width="0.6"/>
<g fill="none" stroke="#dcd6a8" stroke-width="0.8" stroke-linejoin="round" stroke-linecap="round">
<path d="M614.5,724 L602.5,711 C601,709.5 602.5,707.3 605,707.6 C607.5,708 609.5,710.5 611.5,712.5 C613.5,714.5 616.5,716 618.5,717"/>
<path d="M604,789.5 C601.5,788 601.8,784 604.5,782.5 C606,779.5 610,778.5 613,779 C617,778.8 621,780 622.8,783 C624.5,786 624,790 622,793 C620.5,795 617,795.5 614.5,794 C612,794 610,793 609,791.3 C607,791.3 605.2,790.8 604,789.5 Z"/>
<path d="M605.5,785.5 c1,-1.5 2.6,-1 3,0.6 M609.5,781.5 c1.6,0.6 2,2 1.1,3.6 c1.5,1 3,0 3.5,-1.6 M616,781 c0.5,1.6 1.6,2.6 3.2,2.5 M608.5,788.5 c1.5,-1 3,0 3.5,1.6 M614.5,786.5 c1.5,-0.6 3,0.5 3,2 c1,0.6 2.2,0 2.6,-1 M617,791 c0.8,0.8 2,1 3,0.4"/>
<circle cx="613.3" cy="826.4" r="2.5"/>
<path d="M610.5,829 C608,829.3 606.8,831 606.6,833.5 L606.3,837 C606.5,838.3 607.5,838.6 608.4,838.2 L609.2,838 L610.2,848.3 L613,848.5 L613.2,842.5 L613.6,848.5 L616.3,848.3 L617.4,838 L618.3,838.2 C619.5,838.6 620.6,838 620.8,837 L620.3,833.5 C620,831 618.8,829.3 616.3,829 Z"/>
</g><circle cx="605.7" cy="711.5" r="0.7" fill="#fff"/>
</svg>
<div class=t style="left:294.47px;top:63.70px;font-family:'DejaVu Sans Condensed','DejaVu Sans',sans-serif;font-stretch:condensed;font-size:33px;line-height:33px;font-weight:700;color:#ffffff;transform:scaleX(1.0090);-webkit-text-stroke:0.45px #ffffff;">КОВИД-19 ЦАР ТАХЛЫН НӨХЦӨЛ БАЙДАЛ</div>
<div class=t style="left:297.24px;top:113.30px;font-family:'DejaVu Sans Condensed','DejaVu Sans',sans-serif;font-stretch:condensed;font-size:18.2px;line-height:18.2px;font-weight:400;color:#f0c537;transform:scaleX(1.0626);">2022.01.10-ны өдрийн байдлаар</div>
<div class=t style="left:127.55px;top:91.80px;font-family:'Liberation Sans',Arial,sans-serif;font-size:11px;line-height:11px;font-weight:700;color:#ffffff;transform:scaleX(1.1471);">ЭРҮҮЛ</div>
<div class=t style="left:127.55px;top:106.40px;font-family:'Liberation Sans',Arial,sans-serif;font-size:11px;line-height:11px;font-weight:700;color:#ffffff;transform:scaleX(1.1482);">МЭНДИЙН ЯАМ</div>
<div class=t style="left:58.30px;top:97.70px;font-family:'Liberation Sans',Arial,sans-serif;font-size:6.3px;line-height:6.3px;font-weight:700;color:#e4ecfa;transform:scaleX(1.0346);">МОНГОЛ УЛСЫН</div>
<div class=t style="left:57.25px;top:105.20px;font-family:'Liberation Sans',Arial,sans-serif;font-size:6.3px;line-height:6.3px;font-weight:700;color:#e4ecfa;transform:scaleX(1.0490);">ЗАСГИЙН ГАЗАР</div>
<div class=t style="left:105.40px;top:186.40px;font-family:'DejaVu Sans Condensed','DejaVu Sans',sans-serif;font-stretch:condensed;font-size:14.8px;line-height:14.8px;font-weight:700;color:#1f3142;transform:scaleX(1.0067);-webkit-text-stroke:0.35px #1f3142;">ХАЛДВАРЫН НӨХЦӨЛ БАЙДАЛ</div>
<div class=t style="left:440.98px;top:186.40px;font-family:'DejaVu Sans Condensed','DejaVu Sans',sans-serif;font-stretch:condensed;font-size:14.8px;line-height:14.8px;font-weight:700;color:#1f3142;transform:scaleX(1.0172);-webkit-text-stroke:0.35px #1f3142;">ОРОН НУТАГТ БҮРТГЭГДСЭН ТОХИОЛДОЛ</div>
<div class=t style="left:897.20px;top:186.50px;font-family:'DejaVu Sans Condensed','DejaVu Sans',sans-serif;font-stretch:condensed;font-size:14.8px;line-height:14.8px;font-weight:700;color:#1f3142;transform:scaleX(1.0118);-webkit-text-stroke:0.35px #1f3142;">ТАРХВАРЗҮЙН МУРУЙ</div>
<div class=t style="left:853.47px;top:417.30px;font-family:'DejaVu Sans Condensed','DejaVu Sans',sans-serif;font-stretch:condensed;font-size:14.8px;line-height:14.8px;font-weight:700;color:#1f3142;transform:scaleX(1.0333);-webkit-text-stroke:0.35px #1f3142;">ВАКЦИНЖУУЛАЛТ /нийт хүн ам/</div>
<div class=t style="left:140.67px;top:647.70px;font-family:'DejaVu Sans Condensed','DejaVu Sans',sans-serif;font-stretch:condensed;font-size:14.8px;line-height:14.8px;font-weight:700;color:#1f3142;transform:scaleX(1.0325);-webkit-text-stroke:0.35px #1f3142;">НАС БАРАЛТ/өдрөөр/</div>
<div class=t style="left:460.97px;top:647.50px;font-family:'DejaVu Sans Condensed','DejaVu Sans',sans-serif;font-stretch:condensed;font-size:14.8px;line-height:14.8px;font-weight:700;color:#1f3142;transform:scaleX(1.0282);-webkit-text-stroke:0.35px #1f3142;">НАС БАРАЛТЫН ШАЛТГААН /7 хоног/</div>
<div class=t style="left:187.65px;top:233.50px;font-family:'DejaVu Sans Condensed','DejaVu Sans',sans-serif;font-stretch:condensed;font-size:15.5px;line-height:15.5px;font-weight:700;color:#f6c21c;transform:scaleX(1.0481);-webkit-text-stroke:0.35px #f6c21c;">649</div>
<div class=t style="left:144.92px;top:253.70px;font-family:'DejaVu Sans Condensed','DejaVu Sans',sans-serif;font-stretch:condensed;font-size:9.5px;line-height:9.5px;font-weight:700;color:#ffffff;transform:scaleX(0.8829);-webkit-text-stroke:0.2px #ffffff;">ӨДРИЙН</div>
<div class=t style="left:144.91px;top:263.30px;font-family:'DejaVu Sans Condensed','DejaVu Sans',sans-serif;font-stretch:condensed;font-size:9.5px;line-height:9.5px;font-weight:700;color:#ffffff;transform:scaleX(0.8859);-webkit-text-stroke:0.2px #ffffff;">БАТЛАГДСАН</div>
<div class=t style="left:145.80px;top:272.80px;font-family:'DejaVu Sans Condensed','DejaVu Sans',sans-serif;font-stretch:condensed;font-size:9.5px;line-height:9.5px;font-weight:700;color:#ffffff;transform:scaleX(0.8742);-webkit-text-stroke:0.2px #ffffff;">ТОХИОЛДОЛ</div>
<div class=t style="left:291.50px;top:233.50px;font-family:'DejaVu Sans Condensed','DejaVu Sans',sans-serif;font-stretch:condensed;font-size:15.5px;line-height:15.5px;font-weight:700;color:#f6c21c;-webkit-text-stroke:0.35px #f6c21c;">2</div>
<div class=t style="left:262.11px;top:253.70px;font-family:'DejaVu Sans Condensed','DejaVu Sans',sans-serif;font-stretch:condensed;font-size:9.5px;line-height:9.5px;font-weight:700;color:#ffffff;transform:scaleX(0.8906);-webkit-text-stroke:0.2px #ffffff;">ӨДРИЙН НАС</div>
<div class=t style="left:262.14px;top:263.30px;font-family:'DejaVu Sans Condensed','DejaVu Sans',sans-serif;font-stretch:condensed;font-size:9.5px;line-height:9.5px;font-weight:700;color:#ffffff;transform:scaleX(0.8632);-webkit-text-stroke:0.2px #ffffff;">БАРАЛТ</div>
<div class=t style="left:100.35px;top:315.00px;font-family:'DejaVu Sans Condensed','DejaVu Sans',sans-serif;font-stretch:condensed;font-size:15.5px;line-height:15.5px;font-weight:700;color:#f6c21c;transform:scaleX(1.0765);-webkit-text-stroke:0.35px #f6c21c;">10</div>
<div class=t style="left:68.32px;top:334.00px;font-family:'DejaVu Sans Condensed','DejaVu Sans',sans-serif;font-stretch:condensed;font-size:9.5px;line-height:9.5px;font-weight:700;color:#ffffff;transform:scaleX(0.8805);-webkit-text-stroke:0.2px #ffffff;">ЗӨӨВӨРЛӨГДСӨН</div>
<div class=t style="left:69.20px;top:343.70px;font-family:'DejaVu Sans Condensed','DejaVu Sans',sans-serif;font-stretch:condensed;font-size:9.5px;line-height:9.5px;font-weight:700;color:#ffffff;transform:scaleX(0.8742);-webkit-text-stroke:0.2px #ffffff;">ТОХИОЛДОЛ</div>
<div class=t style="left:213.95px;top:315.00px;font-family:'DejaVu Sans Condensed','DejaVu Sans',sans-serif;font-stretch:condensed;font-size:15.5px;line-height:15.5px;font-weight:700;color:#f6c21c;transform:scaleX(1.0481);-webkit-text-stroke:0.35px #f6c21c;">465</div>
<div class=t style="left:184.91px;top:334.00px;font-family:'DejaVu Sans Condensed','DejaVu Sans',sans-serif;font-stretch:condensed;font-size:9.5px;line-height:9.5px;font-weight:700;color:#ffffff;transform:scaleX(0.8930);-webkit-text-stroke:0.2px #ffffff;">УЛААНБААТАР</div>
<div class=t style="left:184.89px;top:343.70px;font-family:'DejaVu Sans Condensed','DejaVu Sans',sans-serif;font-stretch:condensed;font-size:9.5px;line-height:9.5px;font-weight:700;color:#ffffff;transform:scaleX(0.9091);-webkit-text-stroke:0.2px #ffffff;">ХОТОД</div>
<div class=t style="left:335.73px;top:316.00px;font-family:'DejaVu Sans Condensed','DejaVu Sans',sans-serif;font-stretch:condensed;font-size:15.5px;line-height:15.5px;font-weight:700;color:#f6c21c;transform:scaleX(1.0370);-webkit-text-stroke:0.35px #f6c21c;">174</div>
<div class=t style="left:302.11px;top:334.00px;font-family:'DejaVu Sans Condensed','DejaVu Sans',sans-serif;font-stretch:condensed;font-size:9.5px;line-height:9.5px;font-weight:700;color:#ffffff;transform:scaleX(0.8881);-webkit-text-stroke:0.2px #ffffff;">ОРОН НУТАГТ</div>
<div class=t style="left:86.67px;top:389.30px;font-family:'DejaVu Sans Condensed','DejaVu Sans',sans-serif;font-stretch:condensed;font-size:15.5px;line-height:15.5px;font-weight:700;color:#f6c21c;transform:scaleX(1.0143);-webkit-text-stroke:0.35px #f6c21c;">1,020</div>
<div class=t style="left:97.66px;top:407.20px;font-family:'DejaVu Sans Condensed','DejaVu Sans',sans-serif;font-stretch:condensed;font-size:6.6px;line-height:6.6px;font-weight:700;color:#ffffff;transform:scaleX(1.0370);-webkit-text-stroke:0.2px #ffffff;">ХӨНГӨН</div>
<div class=t style="left:169.82px;top:389.30px;font-family:'DejaVu Sans Condensed','DejaVu Sans',sans-serif;font-stretch:condensed;font-size:15.5px;line-height:15.5px;font-weight:700;color:#f6c21c;transform:scaleX(0.9814);-webkit-text-stroke:0.35px #f6c21c;">2,560</div>
<div class=t style="left:169.78px;top:407.20px;font-family:'DejaVu Sans Condensed','DejaVu Sans',sans-serif;font-stretch:condensed;font-size:6.6px;line-height:6.6px;font-weight:700;color:#ffffff;transform:scaleX(1.0225);-webkit-text-stroke:0.2px #ffffff;">ХҮНДЭВТЭР</div>
<div class=t style="left:248.66px;top:389.30px;font-family:'DejaVu Sans Condensed','DejaVu Sans',sans-serif;font-stretch:condensed;font-size:15.5px;line-height:15.5px;font-weight:700;color:#f6c21c;transform:scaleX(1.0357);-webkit-text-stroke:0.35px #f6c21c;">474</div>
<div class=t style="left:253.96px;top:407.20px;font-family:'DejaVu Sans Condensed','DejaVu Sans',sans-serif;font-stretch:condensed;font-size:6.6px;line-height:6.6px;font-weight:700;color:#ffffff;transform:scaleX(1.0389);-webkit-text-stroke:0.2px #ffffff;">ХҮНД</div>
<div class=t style="left:329.78px;top:389.30px;font-family:'DejaVu Sans Condensed','DejaVu Sans',sans-serif;font-stretch:condensed;font-size:15.5px;line-height:15.5px;font-weight:700;color:#f6c21c;transform:scaleX(1.0222);-webkit-text-stroke:0.35px #f6c21c;">36</div>
<div class=t style="left:322.26px;top:407.20px;font-family:'DejaVu Sans Condensed','DejaVu Sans',sans-serif;font-stretch:condensed;font-size:6.6px;line-height:6.6px;font-weight:700;color:#ffffff;transform:scaleX(1.0412);-webkit-text-stroke:0.2px #ffffff;">НЭН ХҮНД</div>
<div class=t style="left:101.01px;top:470.00px;font-family:'DejaVu Sans Condensed','DejaVu Sans',sans-serif;font-stretch:condensed;font-size:15.5px;line-height:15.5px;font-weight:700;color:#f6c21c;transform:scaleX(0.9930);-webkit-text-stroke:0.35px #f6c21c;">4,090</div>
<div class=t style="left:62.82px;top:491.20px;font-family:'DejaVu Sans Condensed','DejaVu Sans',sans-serif;font-stretch:condensed;font-size:9.5px;line-height:9.5px;font-weight:700;color:#ffffff;transform:scaleX(0.8837);-webkit-text-stroke:0.2px #ffffff;">ХЭВТЭН ЭМЧҮҮЛЖ</div>
<div class=t style="left:62.83px;top:500.20px;font-family:'DejaVu Sans Condensed','DejaVu Sans',sans-serif;font-stretch:condensed;font-size:9.5px;line-height:9.5px;font-weight:700;color:#ffffff;transform:scaleX(0.8684);-webkit-text-stroke:0.2px #ffffff;">БАЙГАА</div>
<div class=t style="left:215.69px;top:470.00px;font-family:'DejaVu Sans Condensed','DejaVu Sans',sans-serif;font-stretch:condensed;font-size:15.5px;line-height:15.5px;font-weight:700;color:#f6c21c;transform:scaleX(1.0107);-webkit-text-stroke:0.35px #f6c21c;">680</div>
<div class=t style="left:180.41px;top:491.20px;font-family:'DejaVu Sans Condensed','DejaVu Sans',sans-serif;font-stretch:condensed;font-size:9.5px;line-height:9.5px;font-weight:700;color:#ffffff;transform:scaleX(0.8879);-webkit-text-stroke:0.2px #ffffff;">ХЭВТЭН ЭМЧЛҮҮЛЖ</div>
<div class=t style="left:180.41px;top:500.20px;font-family:'DejaVu Sans Condensed','DejaVu Sans',sans-serif;font-stretch:condensed;font-size:9.5px;line-height:9.5px;font-weight:700;color:#ffffff;transform:scaleX(0.8934);-webkit-text-stroke:0.2px #ffffff;">БУЙ ХҮҮХЭД</div>
<div class=t style="left:328.65px;top:470.00px;font-family:'DejaVu Sans Condensed','DejaVu Sans',sans-serif;font-stretch:condensed;font-size:15.5px;line-height:15.5px;font-weight:700;color:#f6c21c;transform:scaleX(1.0481);-webkit-text-stroke:0.35px #f6c21c;">338</div>
<div class=t style="left:293.32px;top:491.20px;font-family:'DejaVu Sans Condensed','DejaVu Sans',sans-serif;font-stretch:condensed;font-size:9.5px;line-height:9.5px;font-weight:700;color:#ffffff;transform:scaleX(0.8838);-webkit-text-stroke:0.2px #ffffff;">ХЭВТЭН ЭМЧЛҮҮЛЖ</div>
<div class=t style="left:293.31px;top:500.20px;font-family:'DejaVu Sans Condensed','DejaVu Sans',sans-serif;font-stretch:condensed;font-size:9.5px;line-height:9.5px;font-weight:700;color:#ffffff;transform:scaleX(0.8850);-webkit-text-stroke:0.2px #ffffff;">БУЙ ЖИРЭМСЭН</div>
<div class=t style="left:153.28px;top:545.50px;font-family:'DejaVu Sans Condensed','DejaVu Sans',sans-serif;font-stretch:condensed;font-size:15.5px;line-height:15.5px;font-weight:700;color:#f6c21c;transform:scaleX(1.0098);-webkit-text-stroke:0.35px #f6c21c;">10,510</div>
<div class=t style="left:120.42px;top:566.00px;font-family:'DejaVu Sans Condensed','DejaVu Sans',sans-serif;font-stretch:condensed;font-size:9.5px;line-height:9.5px;font-weight:700;color:#ffffff;transform:scaleX(0.8811);-webkit-text-stroke:0.2px #ffffff;">ГЭРИЙН ХЯНАЛТАД</div>
<div class=t style="left:120.43px;top:574.80px;font-family:'DejaVu Sans Condensed','DejaVu Sans',sans-serif;font-stretch:condensed;font-size:9.5px;line-height:9.5px;font-weight:700;color:#ffffff;transform:scaleX(0.8684);-webkit-text-stroke:0.2px #ffffff;">БАЙГАА</div>
<div class=t style="left:307.69px;top:545.50px;font-family:'DejaVu Sans Condensed','DejaVu Sans',sans-serif;font-stretch:condensed;font-size:15.5px;line-height:15.5px;font-weight:700;color:#f6c21c;transform:scaleX(1.0071);-webkit-text-stroke:0.35px #f6c21c;">2,001</div>
<div class=t style="left:275.32px;top:569.00px;font-family:'DejaVu Sans Condensed','DejaVu Sans',sans-serif;font-stretch:condensed;font-size:9.5px;line-height:9.5px;font-weight:700;color:#ffffff;transform:scaleX(0.8813);-webkit-text-stroke:0.2px #ffffff;">НИЙТ НАС БАРАЛТ</div>
<div class=t style="left:448.00px;top:408.80px;font-family:'DejaVu Sans Condensed','DejaVu Sans',sans-serif;font-stretch:condensed;font-size:9.6px;line-height:9.6px;font-weight:700;color:#18223a;-webkit-text-stroke:0.2px #18223a;">АР</div>
<div class=t style="left:450.50px;top:426.10px;font-family:'DejaVu Sans Condensed','DejaVu Sans',sans-serif;font-stretch:condensed;font-size:12.2px;line-height:12.2px;font-weight:700;color:#ffffff;-webkit-text-stroke:0.35px #ffffff;">7</div>
<div class=t style="left:438.00px;top:442.30px;font-family:'DejaVu Sans Condensed','DejaVu Sans',sans-serif;font-stretch:condensed;font-size:10.3px;line-height:10.3px;font-weight:700;color:#1c2440;-webkit-text-stroke:0.2px #1c2440;">12938</div>
<div class=t style="left:497.50px;top:408.80px;font-family:'DejaVu Sans Condensed','DejaVu Sans',sans-serif;font-stretch:condensed;font-size:9.6px;line-height:9.6px;font-weight:700;color:#18223a;-webkit-text-stroke:0.2px #18223a;">БӨ</div>
<div class=t style="left:501.00px;top:426.10px;font-family:'DejaVu Sans Condensed','DejaVu Sans',sans-serif;font-stretch:condensed;font-size:12.2px;line-height:12.2px;font-weight:700;color:#ffffff;-webkit-text-stroke:0.35px #ffffff;">0</div>
<div class=t style="left:488.50px;top:442.30px;font-family:'DejaVu Sans Condensed','DejaVu Sans',sans-serif;font-stretch:condensed;font-size:10.3px;line-height:10.3px;font-weight:700;color:#1c2440;-webkit-text-stroke:0.2px #1c2440;">11314</div>
<div class=t style="left:548.50px;top:408.80px;font-family:'DejaVu Sans Condensed','DejaVu Sans',sans-serif;font-stretch:condensed;font-size:9.6px;line-height:9.6px;font-weight:700;color:#18223a;-webkit-text-stroke:0.2px #18223a;">БХ</div>
<div class=t style="left:551.50px;top:426.10px;font-family:'DejaVu Sans Condensed','DejaVu Sans',sans-serif;font-stretch:condensed;font-size:12.2px;line-height:12.2px;font-weight:700;color:#ffffff;-webkit-text-stroke:0.35px #ffffff;">0</div>
<div class=t style="left:539.00px;top:442.30px;font-family:'DejaVu Sans Condensed','DejaVu Sans',sans-serif;font-stretch:condensed;font-size:10.3px;line-height:10.3px;font-weight:700;color:#1c2440;-webkit-text-stroke:0.2px #1c2440;">17852</div>
<div class=t style="left:599.00px;top:408.80px;font-family:'DejaVu Sans Condensed','DejaVu Sans',sans-serif;font-stretch:condensed;font-size:9.6px;line-height:9.6px;font-weight:700;color:#18223a;-webkit-text-stroke:0.2px #18223a;">БУ</div>
<div class=t style="left:602.00px;top:426.10px;font-family:'DejaVu Sans Condensed','DejaVu Sans',sans-serif;font-stretch:condensed;font-size:12.2px;line-height:12.2px;font-weight:700;color:#ffffff;-webkit-text-stroke:0.35px #ffffff;">0</div>
<div class=t style="left:589.50px;top:442.30px;font-family:'DejaVu Sans Condensed','DejaVu Sans',sans-serif;font-stretch:condensed;font-size:10.3px;line-height:10.3px;font-weight:700;color:#1c2440;-webkit-text-stroke:0.2px #1c2440;">11643</div>
<div class=t style="left:650.00px;top:408.80px;font-family:'DejaVu Sans Condensed','DejaVu Sans',sans-serif;font-stretch:condensed;font-size:9.6px;line-height:9.6px;font-weight:700;color:#18223a;-webkit-text-stroke:0.2px #18223a;">ГА</div>
<div class=t style="left:652.50px;top:426.10px;font-family:'DejaVu Sans Condensed','DejaVu Sans',sans-serif;font-stretch:condensed;font-size:12.2px;line-height:12.2px;font-weight:700;color:#ffffff;-webkit-text-stroke:0.35px #ffffff;">7</div>
<div class=t style="left:640.00px;top:442.30px;font-family:'DejaVu Sans Condensed','DejaVu Sans',sans-serif;font-stretch:condensed;font-size:10.3px;line-height:10.3px;font-weight:700;color:#1c2440;-webkit-text-stroke:0.2px #1c2440;">13211</div>
<div class=t style="left:700.50px;top:408.80px;font-family:'DejaVu Sans Condensed','DejaVu Sans',sans-serif;font-stretch:condensed;font-size:9.6px;line-height:9.6px;font-weight:700;color:#18223a;-webkit-text-stroke:0.2px #18223a;">ГС</div>
<div class=t style="left:703.00px;top:426.10px;font-family:'DejaVu Sans Condensed','DejaVu Sans',sans-serif;font-stretch:condensed;font-size:12.2px;line-height:12.2px;font-weight:700;color:#ffffff;-webkit-text-stroke:0.35px #ffffff;">0</div>
<div class=t style="left:693.46px;top:442.30px;font-family:'DejaVu Sans Condensed','DejaVu Sans',sans-serif;font-stretch:condensed;font-size:10.3px;line-height:10.3px;font-weight:700;color:#1c2440;transform:scaleX(1.0417);-webkit-text-stroke:0.2px #1c2440;">5639</div>
<div class=t style="left:750.50px;top:408.80px;font-family:'DejaVu Sans Condensed','DejaVu Sans',sans-serif;font-stretch:condensed;font-size:9.6px;line-height:9.6px;font-weight:700;color:#18223a;-webkit-text-stroke:0.2px #18223a;">ДА</div>
<div class=t style="left:753.50px;top:426.10px;font-family:'DejaVu Sans Condensed','DejaVu Sans',sans-serif;font-stretch:condensed;font-size:12.2px;line-height:12.2px;font-weight:700;color:#ffffff;-webkit-text-stroke:0.35px #ffffff;">4</div>
<div class=t style="left:741.00px;top:442.30px;font-family:'DejaVu Sans Condensed','DejaVu Sans',sans-serif;font-stretch:condensed;font-size:10.3px;line-height:10.3px;font-weight:700;color:#1c2440;-webkit-text-stroke:0.2px #1c2440;">12854</div>
<div class=t style="left:448.00px;top:483.80px;font-family:'DejaVu Sans Condensed','DejaVu Sans',sans-serif;font-stretch:condensed;font-size:9.6px;line-height:9.6px;font-weight:700;color:#18223a;-webkit-text-stroke:0.2px #18223a;">ДГ</div>
<div class=t style="left:446.50px;top:501.10px;font-family:'DejaVu Sans Condensed','DejaVu Sans',sans-serif;font-stretch:condensed;font-size:12.2px;line-height:12.2px;font-weight:700;color:#ffffff;-webkit-text-stroke:0.35px #ffffff;">13</div>
<div class=t style="left:438.00px;top:517.30px;font-family:'DejaVu Sans Condensed','DejaVu Sans',sans-serif;font-stretch:condensed;font-size:10.3px;line-height:10.3px;font-weight:700;color:#1c2440;-webkit-text-stroke:0.2px #1c2440;">20453</div>
<div class=t style="left:497.50px;top:483.80px;font-family:'DejaVu Sans Condensed','DejaVu Sans',sans-serif;font-stretch:condensed;font-size:9.6px;line-height:9.6px;font-weight:700;color:#18223a;-webkit-text-stroke:0.2px #18223a;">ДО</div>
<div class=t style="left:501.00px;top:501.10px;font-family:'DejaVu Sans Condensed','DejaVu Sans',sans-serif;font-stretch:condensed;font-size:12.2px;line-height:12.2px;font-weight:700;color:#ffffff;-webkit-text-stroke:0.35px #ffffff;">0</div>
<div class=t style="left:488.50px;top:517.30px;font-family:'DejaVu Sans Condensed','DejaVu Sans',sans-serif;font-stretch:condensed;font-size:10.3px;line-height:10.3px;font-weight:700;color:#1c2440;-webkit-text-stroke:0.2px #1c2440;">19121</div>
<div class=t style="left:548.50px;top:483.80px;font-family:'DejaVu Sans Condensed','DejaVu Sans',sans-serif;font-stretch:condensed;font-size:9.6px;line-height:9.6px;font-weight:700;color:#18223a;-webkit-text-stroke:0.2px #18223a;">ДУ</div>
<div class=t style="left:551.50px;top:501.10px;font-family:'DejaVu Sans Condensed','DejaVu Sans',sans-serif;font-stretch:condensed;font-size:12.2px;line-height:12.2px;font-weight:700;color:#ffffff;-webkit-text-stroke:0.35px #ffffff;">0</div>
<div class=t style="left:539.00px;top:517.30px;font-family:'DejaVu Sans Condensed','DejaVu Sans',sans-serif;font-stretch:condensed;font-size:10.3px;line-height:10.3px;font-weight:700;color:#1c2440;-webkit-text-stroke:0.2px #1c2440;">12499</div>
<div class=t style="left:599.00px;top:483.80px;font-family:'DejaVu Sans Condensed','DejaVu Sans',sans-serif;font-stretch:condensed;font-size:9.6px;line-height:9.6px;font-weight:700;color:#18223a;-webkit-text-stroke:0.2px #18223a;">ЗА</div>
<div class=t style="left:602.00px;top:501.10px;font-family:'DejaVu Sans Condensed','DejaVu Sans',sans-serif;font-stretch:condensed;font-size:12.2px;line-height:12.2px;font-weight:700;color:#ffffff;-webkit-text-stroke:0.35px #ffffff;">0</div>
<div class=t style="left:589.50px;top:517.30px;font-family:'DejaVu Sans Condensed','DejaVu Sans',sans-serif;font-stretch:condensed;font-size:10.3px;line-height:10.3px;font-weight:700;color:#1c2440;-webkit-text-stroke:0.2px #1c2440;">12173</div>
<div class=t style="left:650.00px;top:483.80px;font-family:'DejaVu Sans Condensed','DejaVu Sans',sans-serif;font-stretch:condensed;font-size:9.6px;line-height:9.6px;font-weight:700;color:#18223a;-webkit-text-stroke:0.2px #18223a;">ОР</div>
<div class=t style="left:652.50px;top:501.10px;font-family:'DejaVu Sans Condensed','DejaVu Sans',sans-serif;font-stretch:condensed;font-size:12.2px;line-height:12.2px;font-weight:700;color:#ffffff;-webkit-text-stroke:0.35px #ffffff;">0</div>
<div class=t style="left:640.00px;top:517.30px;font-family:'DejaVu Sans Condensed','DejaVu Sans',sans-serif;font-stretch:condensed;font-size:10.3px;line-height:10.3px;font-weight:700;color:#1c2440;-webkit-text-stroke:0.2px #1c2440;">11706</div>
<div class=t style="left:700.50px;top:483.80px;font-family:'DejaVu Sans Condensed','DejaVu Sans',sans-serif;font-stretch:condensed;font-size:9.6px;line-height:9.6px;font-weight:700;color:#18223a;-webkit-text-stroke:0.2px #18223a;">ӨВ</div>
<div class=t style="left:703.00px;top:501.10px;font-family:'DejaVu Sans Condensed','DejaVu Sans',sans-serif;font-stretch:condensed;font-size:12.2px;line-height:12.2px;font-weight:700;color:#ffffff;-webkit-text-stroke:0.35px #ffffff;">0</div>
<div class=t style="left:690.50px;top:517.30px;font-family:'DejaVu Sans Condensed','DejaVu Sans',sans-serif;font-stretch:condensed;font-size:10.3px;line-height:10.3px;font-weight:700;color:#1c2440;-webkit-text-stroke:0.2px #1c2440;">17792</div>
<div class=t style="left:750.00px;top:483.80px;font-family:'DejaVu Sans Condensed','DejaVu Sans',sans-serif;font-stretch:condensed;font-size:9.6px;line-height:9.6px;font-weight:700;color:#18223a;-webkit-text-stroke:0.2px #18223a;">ӨМ</div>
<div class=t style="left:749.00px;top:501.10px;font-family:'DejaVu Sans Condensed','DejaVu Sans',sans-serif;font-stretch:condensed;font-size:12.2px;line-height:12.2px;font-weight:700;color:#ffffff;-webkit-text-stroke:0.35px #ffffff;">18</div>
<div class=t style="left:741.00px;top:517.30px;font-family:'DejaVu Sans Condensed','DejaVu Sans',sans-serif;font-stretch:condensed;font-size:10.3px;line-height:10.3px;font-weight:700;color:#1c2440;-webkit-text-stroke:0.2px #1c2440;">18343</div>
<div class=t style="left:448.00px;top:559.30px;font-family:'DejaVu Sans Condensed','DejaVu Sans',sans-serif;font-stretch:condensed;font-size:9.6px;line-height:9.6px;font-weight:700;color:#18223a;-webkit-text-stroke:0.2px #18223a;">СҮ</div>
<div class=t style="left:450.50px;top:576.60px;font-family:'DejaVu Sans Condensed','DejaVu Sans',sans-serif;font-stretch:condensed;font-size:12.2px;line-height:12.2px;font-weight:700;color:#ffffff;-webkit-text-stroke:0.35px #ffffff;">3</div>
<div class=t style="left:438.00px;top:592.80px;font-family:'DejaVu Sans Condensed','DejaVu Sans',sans-serif;font-stretch:condensed;font-size:10.3px;line-height:10.3px;font-weight:700;color:#1c2440;-webkit-text-stroke:0.2px #1c2440;">14241</div>
<div class=t style="left:499.00px;top:559.30px;font-family:'DejaVu Sans Condensed','DejaVu Sans',sans-serif;font-stretch:condensed;font-size:9.6px;line-height:9.6px;font-weight:700;color:#18223a;-webkit-text-stroke:0.2px #18223a;">СЭ</div>
<div class=t style="left:497.00px;top:576.60px;font-family:'DejaVu Sans Condensed','DejaVu Sans',sans-serif;font-stretch:condensed;font-size:12.2px;line-height:12.2px;font-weight:700;color:#ffffff;-webkit-text-stroke:0.35px #ffffff;">26</div>
<div class=t style="left:488.50px;top:592.80px;font-family:'DejaVu Sans Condensed','DejaVu Sans',sans-serif;font-stretch:condensed;font-size:10.3px;line-height:10.3px;font-weight:700;color:#1c2440;-webkit-text-stroke:0.2px #1c2440;">19866</div>
<div class=t style="left:549.00px;top:559.30px;font-family:'DejaVu Sans Condensed','DejaVu Sans',sans-serif;font-stretch:condensed;font-size:9.6px;line-height:9.6px;font-weight:700;color:#18223a;-webkit-text-stroke:0.2px #18223a;">ТӨ</div>
<div class=t style="left:548.00px;top:576.60px;font-family:'DejaVu Sans Condensed','DejaVu Sans',sans-serif;font-stretch:condensed;font-size:12.2px;line-height:12.2px;font-weight:700;color:#ffffff;-webkit-text-stroke:0.35px #ffffff;">33</div>
<div class=t style="left:539.00px;top:592.80px;font-family:'DejaVu Sans Condensed','DejaVu Sans',sans-serif;font-stretch:condensed;font-size:10.3px;line-height:10.3px;font-weight:700;color:#1c2440;-webkit-text-stroke:0.2px #1c2440;">16026</div>
<div class=t style="left:599.50px;top:559.30px;font-family:'DejaVu Sans Condensed','DejaVu Sans',sans-serif;font-stretch:condensed;font-size:9.6px;line-height:9.6px;font-weight:700;color:#18223a;-webkit-text-stroke:0.2px #18223a;">УВ</div>
<div class=t style="left:602.00px;top:576.60px;font-family:'DejaVu Sans Condensed','DejaVu Sans',sans-serif;font-stretch:condensed;font-size:12.2px;line-height:12.2px;font-weight:700;color:#ffffff;-webkit-text-stroke:0.35px #ffffff;">0</div>
<div class=t style="left:589.50px;top:592.80px;font-family:'DejaVu Sans Condensed','DejaVu Sans',sans-serif;font-stretch:condensed;font-size:10.3px;line-height:10.3px;font-weight:700;color:#1c2440;-webkit-text-stroke:0.2px #1c2440;">15970</div>
<div class=t style="left:649.50px;top:559.30px;font-family:'DejaVu Sans Condensed','DejaVu Sans',sans-serif;font-stretch:condensed;font-size:9.6px;line-height:9.6px;font-weight:700;color:#18223a;-webkit-text-stroke:0.2px #18223a;">ХО</div>
<div class=t style="left:648.50px;top:576.60px;font-family:'DejaVu Sans Condensed','DejaVu Sans',sans-serif;font-stretch:condensed;font-size:12.2px;line-height:12.2px;font-weight:700;color:#ffffff;-webkit-text-stroke:0.35px #ffffff;">34</div>
<div class=t style="left:640.00px;top:592.80px;font-family:'DejaVu Sans Condensed','DejaVu Sans',sans-serif;font-stretch:condensed;font-size:10.3px;line-height:10.3px;font-weight:700;color:#1c2440;-webkit-text-stroke:0.2px #1c2440;">20010</div>
<div class=t style="left:700.00px;top:559.30px;font-family:'DejaVu Sans Condensed','DejaVu Sans',sans-serif;font-stretch:condensed;font-size:9.6px;line-height:9.6px;font-weight:700;color:#18223a;-webkit-text-stroke:0.2px #18223a;">ХӨ</div>
<div class=t style="left:703.00px;top:576.60px;font-family:'DejaVu Sans Condensed','DejaVu Sans',sans-serif;font-stretch:condensed;font-size:12.2px;line-height:12.2px;font-weight:700;color:#ffffff;-webkit-text-stroke:0.35px #ffffff;">0</div>
<div class=t style="left:690.50px;top:592.80px;font-family:'DejaVu Sans Condensed','DejaVu Sans',sans-serif;font-stretch:condensed;font-size:10.3px;line-height:10.3px;font-weight:700;color:#1c2440;-webkit-text-stroke:0.2px #1c2440;">19089</div>
<div class=t style="left:751.00px;top:559.30px;font-family:'DejaVu Sans Condensed','DejaVu Sans',sans-serif;font-stretch:condensed;font-size:9.6px;line-height:9.6px;font-weight:700;color:#18223a;-webkit-text-stroke:0.2px #18223a;">ХЭ</div>
<div class=t style="left:749.50px;top:576.60px;font-family:'DejaVu Sans Condensed','DejaVu Sans',sans-serif;font-stretch:condensed;font-size:12.2px;line-height:12.2px;font-weight:700;color:#ffffff;-webkit-text-stroke:0.35px #ffffff;">29</div>
<div class=t style="left:741.00px;top:592.80px;font-family:'DejaVu Sans Condensed','DejaVu Sans',sans-serif;font-stretch:condensed;font-size:10.3px;line-height:10.3px;font-weight:700;color:#1c2440;-webkit-text-stroke:0.2px #1c2440;">13942</div>
<div class=t style="left:708.00px;top:348.00px;font-family:'DejaVu Sans Condensed','DejaVu Sans',sans-serif;font-stretch:condensed;font-size:8px;line-height:8px;font-weight:700;color:#18223a;-webkit-text-stroke:0.2px #18223a;">АР</div>
<div class=t style="left:703.00px;top:361.60px;font-family:'DejaVu Sans Condensed','DejaVu Sans',sans-serif;font-stretch:condensed;font-size:8.8px;line-height:8.8px;font-weight:700;color:#ffffff;-webkit-text-stroke:0.2px #ffffff;">0000</div>
<div class=t style="left:703.70px;top:377.80px;font-family:'DejaVu Sans Condensed','DejaVu Sans',sans-serif;font-stretch:condensed;font-size:7.6px;line-height:7.6px;font-weight:700;color:#1c2440;transform:scaleX(1.0526);-webkit-text-stroke:0.2px #1c2440;">0000</div>
<div class=t style="left:732.34px;top:347.40px;font-family:'DejaVu Sans Condensed','DejaVu Sans',sans-serif;font-stretch:condensed;font-size:4.6px;line-height:4.6px;font-weight:700;color:#ffffff;transform:scaleX(0.9310);-webkit-text-stroke:0.2px #ffffff;">АЙМГУУДЫН</div>
<div class=t style="left:733.23px;top:352.10px;font-family:'DejaVu Sans Condensed','DejaVu Sans',sans-serif;font-stretch:condensed;font-size:4.6px;line-height:4.6px;font-weight:700;color:#ffffff;transform:scaleX(0.9684);-webkit-text-stroke:0.2px #ffffff;">ТОВЧИЛСОН НЭР</div>
<div class=t style="left:734.20px;top:360.50px;font-family:'DejaVu Sans Condensed','DejaVu Sans',sans-serif;font-stretch:condensed;font-size:4.6px;line-height:4.6px;font-weight:700;color:#ffffff;transform:scaleX(0.8491);-webkit-text-stroke:0.2px #ffffff;">ӨДРИЙН БАТЛАГДСАН</div>
<div class=t style="left:733.29px;top:365.10px;font-family:'DejaVu Sans Condensed','DejaVu Sans',sans-serif;font-stretch:condensed;font-size:4.6px;line-height:4.6px;font-weight:700;color:#ffffff;transform:scaleX(0.9138);-webkit-text-stroke:0.2px #ffffff;">ТОХИОЛДОЛ</div>
<div class=t style="left:733.24px;top:376.10px;font-family:'DejaVu Sans Condensed','DejaVu Sans',sans-serif;font-stretch:condensed;font-size:4.6px;line-height:4.6px;font-weight:700;color:#ffffff;transform:scaleX(0.9556);-webkit-text-stroke:0.2px #ffffff;">НИЙТ БАТЛАГДСАН</div>
<div class=t style="left:733.29px;top:381.30px;font-family:'DejaVu Sans Condensed','DejaVu Sans',sans-serif;font-stretch:condensed;font-size:4.6px;line-height:4.6px;font-weight:700;color:#ffffff;transform:scaleX(0.9138);-webkit-text-stroke:0.2px #ffffff;">ТОХИОЛДОЛ</div>
<div class=t style="left:864.65px;top:470.50px;font-family:'DejaVu Sans Condensed','DejaVu Sans',sans-serif;font-stretch:condensed;font-size:12.5px;line-height:12.5px;font-weight:400;color:#f0c537;transform:scaleX(1.1517);">I тун:</div>
<div class=t style="left:822.16px;top:487.00px;font-family:'DejaVu Sans Condensed','DejaVu Sans',sans-serif;font-stretch:condensed;font-size:23px;line-height:23px;font-weight:700;color:#ffffff;transform:scaleX(1.0446);-webkit-text-stroke:0.45px #ffffff;">2,266,992</div>
<div class=t style="left:842.13px;top:516.00px;font-family:'DejaVu Sans Condensed','DejaVu Sans',sans-serif;font-stretch:condensed;font-size:17.5px;line-height:17.5px;font-weight:700;color:#f6c21c;transform:scaleX(1.1701);-webkit-text-stroke:0.35px #f6c21c;">(69,7%)</div>
<div class=t style="left:1065.81px;top:474.70px;font-family:'DejaVu Sans Condensed','DejaVu Sans',sans-serif;font-stretch:condensed;font-size:12.5px;line-height:12.5px;font-weight:400;color:#f0c537;transform:scaleX(1.1875);">II тун:</div>
<div class=t style="left:1025.93px;top:491.70px;font-family:'DejaVu Sans Condensed','DejaVu Sans',sans-serif;font-stretch:condensed;font-size:23px;line-height:23px;font-weight:700;color:#ffffff;transform:scaleX(1.0327);-webkit-text-stroke:0.45px #ffffff;">2,166,296</div>
<div class=t style="left:1045.53px;top:520.40px;font-family:'DejaVu Sans Condensed','DejaVu Sans',sans-serif;font-stretch:condensed;font-size:17.5px;line-height:17.5px;font-weight:700;color:#f6c21c;transform:scaleX(1.1731);-webkit-text-stroke:0.35px #f6c21c;">(66,6%)</div>
<div class=t style="left:917.74px;top:554.70px;font-family:'DejaVu Sans Condensed','DejaVu Sans',sans-serif;font-stretch:condensed;font-size:13.5px;line-height:13.5px;font-weight:400;color:#f0c537;transform:scaleX(0.9597);">Дархлаа сэргээх тун:</div>
<div class=t style="left:934.96px;top:572.00px;font-family:'DejaVu Sans Condensed','DejaVu Sans',sans-serif;font-stretch:condensed;font-size:23px;line-height:23px;font-weight:700;color:#ffffff;transform:scaleX(1.0435);-webkit-text-stroke:0.45px #ffffff;">936,906</div>
<div class=t style="left:943.22px;top:600.30px;font-family:'DejaVu Sans Condensed','DejaVu Sans',sans-serif;font-stretch:condensed;font-size:17.5px;line-height:17.5px;font-weight:700;color:#f6c21c;transform:scaleX(1.1821);-webkit-text-stroke:0.35px #f6c21c;">(28,8%)</div>
<div class=t style="left:57.65px;top:701.70px;font-family:'DejaVu Sans Condensed','DejaVu Sans',sans-serif;font-stretch:condensed;font-size:8.6px;line-height:8.6px;font-weight:700;color:#ffffff;transform:scaleX(1.0462);-webkit-text-stroke:0.2px #ffffff;">ХҮЙСЭЭР</div>
<div class=t style="left:169.30px;top:688.20px;font-family:'DejaVu Sans Condensed','DejaVu Sans',sans-serif;font-stretch:condensed;font-size:19.5px;line-height:19.5px;font-weight:700;color:#f6c21c;-webkit-text-stroke:0.35px #f6c21c;">2</div>
<div class=t style="left:168.01px;top:708.20px;font-family:'DejaVu Sans Condensed','DejaVu Sans',sans-serif;font-stretch:condensed;font-size:8.6px;line-height:8.6px;font-weight:700;color:#ffffff;transform:scaleX(0.9925);-webkit-text-stroke:0.2px #ffffff;">ЭМЭГТЭЙ</div>
<div class=t style="left:311.20px;top:688.80px;font-family:'DejaVu Sans Condensed','DejaVu Sans',sans-serif;font-stretch:condensed;font-size:19.5px;line-height:19.5px;font-weight:700;color:#f6c21c;-webkit-text-stroke:0.35px #f6c21c;">0</div>
<div class=t style="left:311.21px;top:709.20px;font-family:'DejaVu Sans Condensed','DejaVu Sans',sans-serif;font-stretch:condensed;font-size:8.6px;line-height:8.6px;font-weight:700;color:#ffffff;transform:scaleX(0.9947);-webkit-text-stroke:0.2px #ffffff;">ЭРЭГТЭЙ</div>
<div class=t style="left:58.01px;top:753.80px;font-family:'DejaVu Sans Condensed','DejaVu Sans',sans-serif;font-stretch:condensed;font-size:8.6px;line-height:8.6px;font-weight:700;color:#ffffff;transform:scaleX(0.9941);-webkit-text-stroke:0.2px #ffffff;">НАСААР</div>
<div class=t style="left:141.45px;top:744.20px;font-family:'DejaVu Sans Condensed','DejaVu Sans',sans-serif;font-stretch:condensed;font-size:15px;line-height:15px;font-weight:700;color:#f6c21c;transform:scaleX(1.0500);-webkit-text-stroke:0.35px #f6c21c;">0</div>
<div class=t style="left:123.55px;top:771.70px;font-family:'DejaVu Sans Condensed','DejaVu Sans',sans-serif;font-stretch:condensed;font-size:10px;line-height:10px;font-weight:700;color:#ffffff;transform:scaleX(1.0524);-webkit-text-stroke:0.2px #ffffff;">0-20 нас</div>
<div class=t style="left:196.45px;top:744.20px;font-family:'DejaVu Sans Condensed','DejaVu Sans',sans-serif;font-stretch:condensed;font-size:15px;line-height:15px;font-weight:700;color:#f6c21c;transform:scaleX(1.0500);-webkit-text-stroke:0.35px #f6c21c;">0</div>
<div class=t style="left:186.18px;top:771.70px;font-family:'DejaVu Sans Condensed','DejaVu Sans',sans-serif;font-stretch:condensed;font-size:10px;line-height:10px;font-weight:700;color:#ffffff;transform:scaleX(1.0704);-webkit-text-stroke:0.2px #ffffff;">21-40</div>
<div class=t style="left:191.91px;top:782.80px;font-family:'DejaVu Sans Condensed','DejaVu Sans',sans-serif;font-stretch:condensed;font-size:10px;line-height:10px;font-weight:700;color:#ffffff;transform:scaleX(1.0875);-webkit-text-stroke:0.2px #ffffff;">нас</div>
<div class=t style="left:251.85px;top:744.20px;font-family:'DejaVu Sans Condensed','DejaVu Sans',sans-serif;font-stretch:condensed;font-size:15px;line-height:15px;font-weight:700;color:#f6c21c;transform:scaleX(1.0500);-webkit-text-stroke:0.35px #f6c21c;">0</div>
<div class=t style="left:241.10px;top:771.70px;font-family:'DejaVu Sans Condensed','DejaVu Sans',sans-serif;font-stretch:condensed;font-size:10px;line-height:10px;font-weight:700;color:#ffffff;transform:scaleX(1.1037);-webkit-text-stroke:0.2px #ffffff;">41-60</div>
<div class=t style="left:247.31px;top:782.80px;font-family:'DejaVu Sans Condensed','DejaVu Sans',sans-serif;font-stretch:condensed;font-size:10px;line-height:10px;font-weight:700;color:#ffffff;transform:scaleX(1.0875);-webkit-text-stroke:0.2px #ffffff;">нас</div>
<div class=t style="left:305.70px;top:744.20px;font-family:'DejaVu Sans Condensed','DejaVu Sans',sans-serif;font-stretch:condensed;font-size:15px;line-height:15px;font-weight:700;color:#f6c21c;-webkit-text-stroke:0.35px #f6c21c;">1</div>
<div class=t style="left:294.70px;top:771.70px;font-family:'DejaVu Sans Condensed','DejaVu Sans',sans-serif;font-stretch:condensed;font-size:10px;line-height:10px;font-weight:700;color:#ffffff;transform:scaleX(1.1037);-webkit-text-stroke:0.2px #ffffff;">61-80</div>
<div class=t style="left:300.91px;top:782.80px;font-family:'DejaVu Sans Condensed','DejaVu Sans',sans-serif;font-stretch:condensed;font-size:10px;line-height:10px;font-weight:700;color:#ffffff;transform:scaleX(1.0875);-webkit-text-stroke:0.2px #ffffff;">нас</div>
<div class=t style="left:360.20px;top:744.20px;font-family:'DejaVu Sans Condensed','DejaVu Sans',sans-serif;font-stretch:condensed;font-size:15px;line-height:15px;font-weight:700;color:#f6c21c;-webkit-text-stroke:0.35px #f6c21c;">1</div>
<div class=t style="left:352.77px;top:771.70px;font-family:'DejaVu Sans Condensed','DejaVu Sans',sans-serif;font-stretch:condensed;font-size:10px;line-height:10px;font-weight:700;color:#ffffff;transform:scaleX(1.1300);-webkit-text-stroke:0.2px #ffffff;">80-с</div>
<div class=t style="left:351.15px;top:782.80px;font-family:'DejaVu Sans Condensed','DejaVu Sans',sans-serif;font-stretch:condensed;font-size:10px;line-height:10px;font-weight:700;color:#ffffff;-webkit-text-stroke:0.2px #ffffff;">дээш</div>
<div class=t style="left:57.99px;top:810.20px;font-family:'DejaVu Sans Condensed','DejaVu Sans',sans-serif;font-stretch:condensed;font-size:8.6px;line-height:8.6px;font-weight:700;color:#ffffff;transform:scaleX(1.0073);-webkit-text-stroke:0.2px #ffffff;">ХҮНДРЭЛ</div>
<div class=t style="left:169.30px;top:811.30px;font-family:'DejaVu Sans Condensed','DejaVu Sans',sans-serif;font-stretch:condensed;font-size:15px;line-height:15px;font-weight:700;color:#f6c21c;-webkit-text-stroke:0.35px #f6c21c;">2</div>
<div class=t style="left:132.00px;top:831.70px;font-family:'DejaVu Sans Condensed','DejaVu Sans',sans-serif;font-stretch:condensed;font-size:8.6px;line-height:8.6px;font-weight:700;color:#ffffff;transform:scaleX(0.9648);-webkit-text-stroke:0.2px #ffffff;">АРХАГ, ХУУЧ ӨВЧТЭЙ +</div>
<div class=t style="left:131.03px;top:841.70px;font-family:'DejaVu Sans Condensed','DejaVu Sans',sans-serif;font-stretch:condensed;font-size:8.6px;line-height:8.6px;font-weight:700;color:#ffffff;transform:scaleX(0.9678);-webkit-text-stroke:0.2px #ffffff;">КОВИД ХАВСАРСАН</div>
<div class=t style="left:310.00px;top:810.90px;font-family:'DejaVu Sans Condensed','DejaVu Sans',sans-serif;font-stretch:condensed;font-size:15px;line-height:15px;font-weight:700;color:#f6c21c;-webkit-text-stroke:0.35px #f6c21c;">0</div>
<div class=t style="left:271.51px;top:831.30px;font-family:'DejaVu Sans Condensed','DejaVu Sans',sans-serif;font-stretch:condensed;font-size:8.6px;line-height:8.6px;font-weight:700;color:#ffffff;transform:scaleX(0.9889);-webkit-text-stroke:0.2px #ffffff;">КОВИД-19</div>
<div class=t style="left:467.35px;top:727.80px;font-family:'DejaVu Sans Condensed','DejaVu Sans',sans-serif;font-stretch:condensed;font-size:16px;line-height:16px;font-weight:700;color:#ffffff;transform:scaleX(1.1515);-webkit-text-stroke:0.35px #ffffff;">22.7</div>
<div class=t style="left:506.80px;top:732.80px;font-family:'DejaVu Sans Condensed','DejaVu Sans',sans-serif;font-stretch:condensed;font-size:10px;line-height:10px;font-weight:700;color:#ffffff;transform:scaleX(1.1444);-webkit-text-stroke:0.2px #ffffff;">%</div>
<div class=t style="left:457.93px;top:749.20px;font-family:'DejaVu Sans Condensed','DejaVu Sans',sans-serif;font-stretch:condensed;font-size:23.5px;line-height:23.5px;font-weight:700;color:#f6c21c;transform:scaleX(1.0354);-webkit-text-stroke:0.45px #f6c21c;">77.3</div>
<div class=t style="left:508.59px;top:756.20px;font-family:'DejaVu Sans Condensed','DejaVu Sans',sans-serif;font-stretch:condensed;font-size:14px;line-height:14px;font-weight:700;color:#f6c21c;transform:scaleX(1.4091);-webkit-text-stroke:0.35px #f6c21c;">%</div>
<div class=t style="left:455.20px;top:805.70px;font-family:'DejaVu Sans Condensed','DejaVu Sans',sans-serif;font-stretch:condensed;font-size:11px;line-height:11px;font-weight:700;color:#f6c21c;transform:scaleX(0.9124);-webkit-text-stroke:0.2px #f6c21c;">Архаг хууч + Ковид</div>
<div class=t style="left:454.27px;top:817.30px;font-family:'DejaVu Sans Condensed','DejaVu Sans',sans-serif;font-stretch:condensed;font-size:11px;line-height:11px;font-weight:700;color:#f6c21c;transform:scaleX(0.9263);-webkit-text-stroke:0.2px #f6c21c;">хавсарсан</div>
<div class=t style="left:454.29px;top:837.30px;font-family:'DejaVu Sans Condensed','DejaVu Sans',sans-serif;font-stretch:condensed;font-size:11px;line-height:11px;font-weight:700;color:#ffffff;transform:scaleX(0.9080);-webkit-text-stroke:0.2px #ffffff;">Ковид шалтгаант</div>
<div class=t style="left:632.65px;top:683.70px;font-family:'DejaVu Sans Condensed','DejaVu Sans',sans-serif;font-stretch:condensed;font-size:12.2px;line-height:12.2px;font-weight:700;color:#f6c21c;transform:scaleX(1.1462);-webkit-text-stroke:0.35px #f6c21c;">74.0</div>
<div class=t style="left:663.90px;top:687.70px;font-family:'DejaVu Sans Condensed','DejaVu Sans',sans-serif;font-stretch:condensed;font-size:7.5px;line-height:7.5px;font-weight:700;color:#f6c21c;-webkit-text-stroke:0.2px #f6c21c;">%</div>
<div class=t style="left:677.55px;top:685.60px;font-family:'DejaVu Sans Condensed','DejaVu Sans',sans-serif;font-stretch:condensed;font-size:10.6px;line-height:10.6px;font-weight:700;color:#ffffff;transform:scaleX(0.9535);-webkit-text-stroke:0.2px #ffffff;">Зүрх, судасны өвчин</div>
<div class=t style="left:632.65px;top:707.77px;font-family:'DejaVu Sans Condensed','DejaVu Sans',sans-serif;font-stretch:condensed;font-size:12.2px;line-height:12.2px;font-weight:700;color:#f6c21c;transform:scaleX(1.1462);-webkit-text-stroke:0.35px #f6c21c;">23.4</div>
<div class=t style="left:663.90px;top:711.77px;font-family:'DejaVu Sans Condensed','DejaVu Sans',sans-serif;font-stretch:condensed;font-size:7.5px;line-height:7.5px;font-weight:700;color:#f6c21c;-webkit-text-stroke:0.2px #f6c21c;">%</div>
<div class=t style="left:677.52px;top:709.67px;font-family:'DejaVu Sans Condensed','DejaVu Sans',sans-serif;font-stretch:condensed;font-size:10.6px;line-height:10.6px;font-weight:700;color:#ffffff;transform:scaleX(0.9773);-webkit-text-stroke:0.2px #ffffff;">Чихрийн шижин</div>
<div class=t style="left:632.61px;top:731.84px;font-family:'DejaVu Sans Condensed','DejaVu Sans',sans-serif;font-stretch:condensed;font-size:12.2px;line-height:12.2px;font-weight:700;color:#f6c21c;transform:scaleX(1.1920);-webkit-text-stroke:0.35px #f6c21c;">13.3</div>
<div class=t style="left:663.90px;top:735.84px;font-family:'DejaVu Sans Condensed','DejaVu Sans',sans-serif;font-stretch:condensed;font-size:7.5px;line-height:7.5px;font-weight:700;color:#f6c21c;-webkit-text-stroke:0.2px #f6c21c;">%</div>
<div class=t style="left:677.54px;top:733.74px;font-family:'DejaVu Sans Condensed','DejaVu Sans',sans-serif;font-stretch:condensed;font-size:10.6px;line-height:10.6px;font-weight:700;color:#ffffff;transform:scaleX(0.9577);-webkit-text-stroke:0.2px #ffffff;">Бөөрний эмгэг</div>
<div class=t style="left:632.56px;top:755.91px;font-family:'DejaVu Sans Condensed','DejaVu Sans',sans-serif;font-stretch:condensed;font-size:12.2px;line-height:12.2px;font-weight:700;color:#f6c21c;transform:scaleX(1.2353);-webkit-text-stroke:0.35px #f6c21c;">8.3</div>
<div class=t style="left:655.10px;top:759.91px;font-family:'DejaVu Sans Condensed','DejaVu Sans',sans-serif;font-stretch:condensed;font-size:7.5px;line-height:7.5px;font-weight:700;color:#f6c21c;-webkit-text-stroke:0.2px #f6c21c;">%</div>
<div class=t style="left:677.52px;top:757.81px;font-family:'DejaVu Sans Condensed','DejaVu Sans',sans-serif;font-stretch:condensed;font-size:10.6px;line-height:10.6px;font-weight:700;color:#ffffff;transform:scaleX(0.9776);-webkit-text-stroke:0.2px #ffffff;">Элэгний эмгэг</div>
<div class=t style="left:632.66px;top:779.98px;font-family:'DejaVu Sans Condensed','DejaVu Sans',sans-serif;font-stretch:condensed;font-size:12.2px;line-height:12.2px;font-weight:700;color:#f6c21c;transform:scaleX(1.1440);-webkit-text-stroke:0.35px #f6c21c;">12.1</div>
<div class=t style="left:662.70px;top:783.98px;font-family:'DejaVu Sans Condensed','DejaVu Sans',sans-serif;font-stretch:condensed;font-size:7.5px;line-height:7.5px;font-weight:700;color:#f6c21c;-webkit-text-stroke:0.2px #f6c21c;">%</div>
<div class=t style="left:677.53px;top:781.88px;font-family:'DejaVu Sans Condensed','DejaVu Sans',sans-serif;font-stretch:condensed;font-size:10.6px;line-height:10.6px;font-weight:700;color:#ffffff;transform:scaleX(0.9656);-webkit-text-stroke:0.2px #ffffff;">Мэдрэлийн эмгэг</div>
<div class=t style="left:632.66px;top:804.05px;font-family:'DejaVu Sans Condensed','DejaVu Sans',sans-serif;font-stretch:condensed;font-size:12.2px;line-height:12.2px;font-weight:700;color:#f6c21c;transform:scaleX(1.1389);-webkit-text-stroke:0.35px #f6c21c;">5.6</div>
<div class=t style="left:654.60px;top:808.05px;font-family:'DejaVu Sans Condensed','DejaVu Sans',sans-serif;font-stretch:condensed;font-size:7.5px;line-height:7.5px;font-weight:700;color:#f6c21c;-webkit-text-stroke:0.2px #f6c21c;">%</div>
<div class=t style="left:677.55px;top:805.95px;font-family:'DejaVu Sans Condensed','DejaVu Sans',sans-serif;font-stretch:condensed;font-size:10.6px;line-height:10.6px;font-weight:700;color:#ffffff;transform:scaleX(0.9462);-webkit-text-stroke:0.2px #ffffff;">Хавдар</div>
<div class=t style="left:632.56px;top:828.12px;font-family:'DejaVu Sans Condensed','DejaVu Sans',sans-serif;font-stretch:condensed;font-size:12.2px;line-height:12.2px;font-weight:700;color:#f6c21c;transform:scaleX(1.2353);-webkit-text-stroke:0.35px #f6c21c;">6.3</div>
<div class=t style="left:655.10px;top:832.12px;font-family:'DejaVu Sans Condensed','DejaVu Sans',sans-serif;font-stretch:condensed;font-size:7.5px;line-height:7.5px;font-weight:700;color:#f6c21c;-webkit-text-stroke:0.2px #f6c21c;">%</div>
<div class=t style="left:677.55px;top:830.02px;font-family:'DejaVu Sans Condensed','DejaVu Sans',sans-serif;font-stretch:condensed;font-size:10.6px;line-height:10.6px;font-weight:700;color:#ffffff;transform:scaleX(0.9455);-webkit-text-stroke:0.2px #ffffff;">Хэт таргалалт</div>
<div class=t style="left:819.18px;top:691.70px;font-family:'DejaVu Sans Condensed','DejaVu Sans',sans-serif;font-stretch:condensed;font-size:19.8px;line-height:19.8px;font-weight:700;color:#f6c21c;transform:scaleX(1.0095);-webkit-text-stroke:0.35px #f6c21c;">Иргэн Та амны хаалтаа тогтмол</div>
<div class=t style="left:832.41px;top:714.30px;font-family:'DejaVu Sans Condensed','DejaVu Sans',sans-serif;font-stretch:condensed;font-size:19.8px;line-height:19.8px;font-weight:700;color:#f6c21c;transform:scaleX(0.9916);-webkit-text-stroke:0.35px #f6c21c;">зүүж, дархлаа сэргээх нэмэлт</div>
<div class=t style="left:833.40px;top:737.00px;font-family:'DejaVu Sans Condensed','DejaVu Sans',sans-serif;font-stretch:condensed;font-size:19.8px;line-height:19.8px;font-weight:700;color:#f6c21c;transform:scaleX(0.9701);-webkit-text-stroke:0.35px #f6c21c;">тунд хамрагдсанаар өөрийгөө</div>
<div class=t style="left:829.62px;top:759.70px;font-family:'DejaVu Sans Condensed','DejaVu Sans',sans-serif;font-stretch:condensed;font-size:19.8px;line-height:19.8px;font-weight:700;color:#f6c21c;transform:scaleX(0.9781);-webkit-text-stroke:0.35px #f6c21c;">болон гэр бүлээ КОВИД-19-ийн</div>
<div class=t style="left:864.99px;top:782.30px;font-family:'DejaVu Sans Condensed','DejaVu Sans',sans-serif;font-stretch:condensed;font-size:19.8px;line-height:19.8px;font-weight:700;color:#f6c21c;transform:scaleX(1.0092);-webkit-text-stroke:0.35px #f6c21c;">халдвараас хамгаална.</div>
</body></html>
